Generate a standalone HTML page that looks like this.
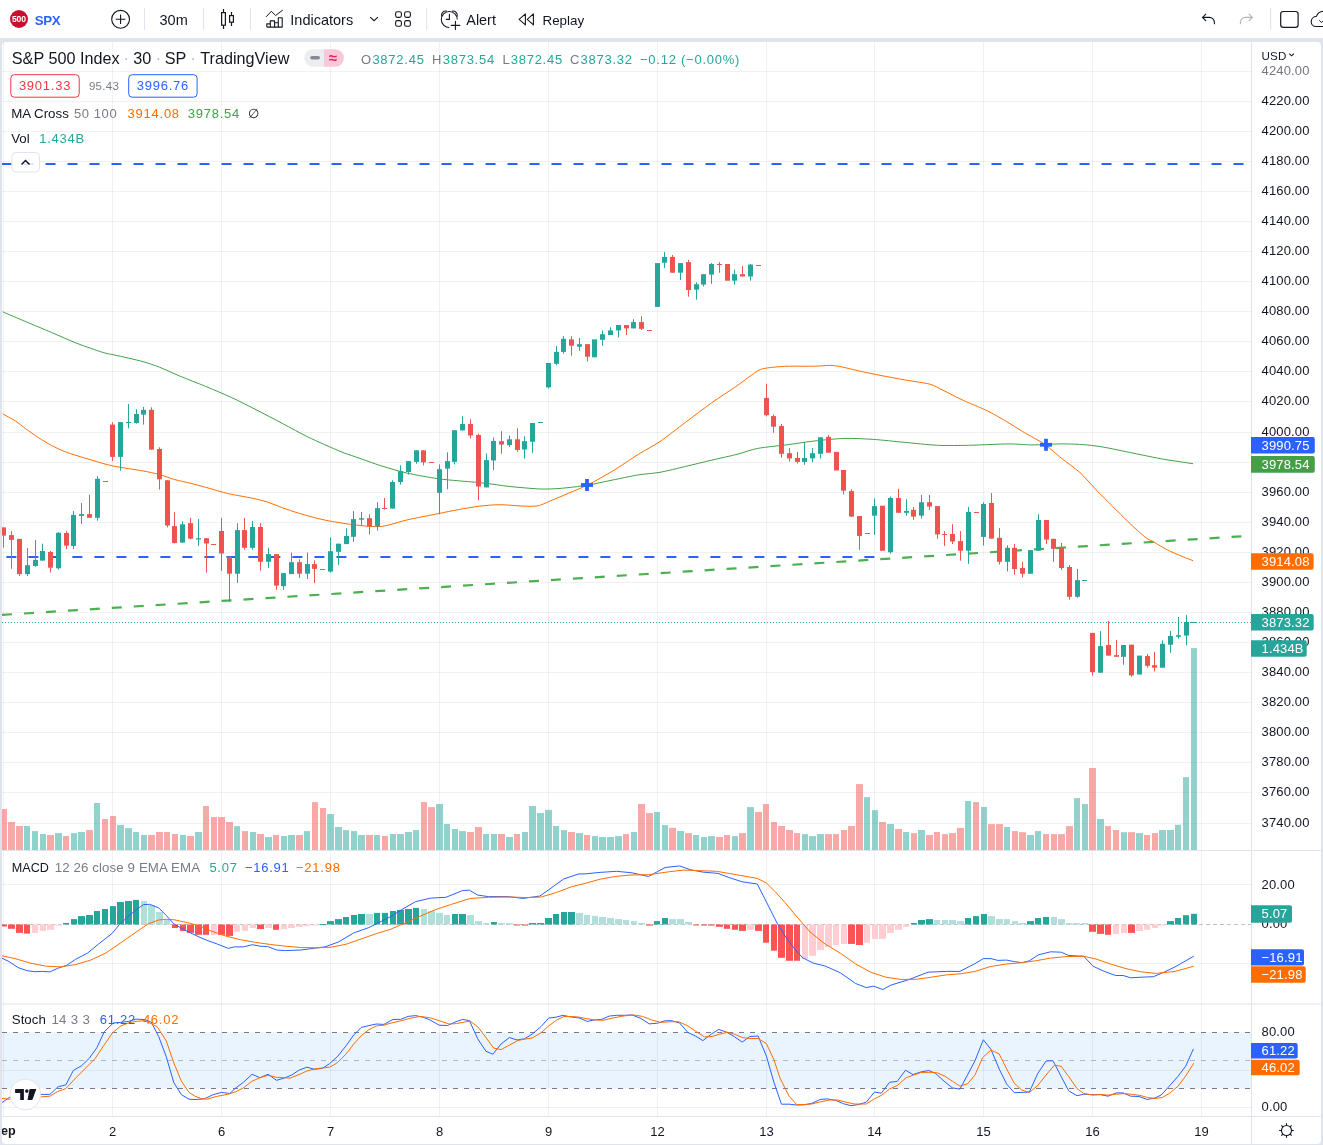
<!DOCTYPE html>
<html><head><meta charset="utf-8"><title>SPX TradingView</title>
<style>
html,body{margin:0;padding:0;background:#e0e3eb;}
body{width:1323px;height:1145px;overflow:hidden;position:relative;font-family:'Liberation Sans', Arial, sans-serif;}
#tb{position:absolute;left:0;top:0;width:1323px;height:38px;background:#fff;}
#panel{position:absolute;left:2px;top:42px;width:1319px;height:1102px;background:#fff;border-radius:4px;}
svg{position:absolute;left:0;top:0;}
svg text{font-family:'Liberation Sans', Arial, sans-serif;}
</style></head>
<body>
<div id="tb"></div>
<div id="panel"></div>
<svg width="1323" height="1145" viewBox="0 0 1323 1145">
<defs><clipPath id="cp"><rect x="2" y="42" width="1249" height="1074"/></clipPath><clipPath id="cpt"><rect x="2" y="1117" width="1249" height="27"/></clipPath></defs>
<g clip-path="url(#cp)">
<rect x="2" y="1032.5" width="1249" height="56" fill="#e9f4fe"/>
<line x1="3.5" y1="42" x2="3.5" y2="1117" stroke="#2a2e39" stroke-opacity="0.066" stroke-width="1"/><line x1="112.5" y1="42" x2="112.5" y2="1117" stroke="#2a2e39" stroke-opacity="0.066" stroke-width="1"/><line x1="221.5" y1="42" x2="221.5" y2="1117" stroke="#2a2e39" stroke-opacity="0.066" stroke-width="1"/><line x1="330.5" y1="42" x2="330.5" y2="1117" stroke="#2a2e39" stroke-opacity="0.066" stroke-width="1"/><line x1="439.5" y1="42" x2="439.5" y2="1117" stroke="#2a2e39" stroke-opacity="0.066" stroke-width="1"/><line x1="548.5" y1="42" x2="548.5" y2="1117" stroke="#2a2e39" stroke-opacity="0.066" stroke-width="1"/><line x1="657.5" y1="42" x2="657.5" y2="1117" stroke="#2a2e39" stroke-opacity="0.066" stroke-width="1"/><line x1="766.5" y1="42" x2="766.5" y2="1117" stroke="#2a2e39" stroke-opacity="0.066" stroke-width="1"/><line x1="874.5" y1="42" x2="874.5" y2="1117" stroke="#2a2e39" stroke-opacity="0.066" stroke-width="1"/><line x1="983.5" y1="42" x2="983.5" y2="1117" stroke="#2a2e39" stroke-opacity="0.066" stroke-width="1"/><line x1="1092.5" y1="42" x2="1092.5" y2="1117" stroke="#2a2e39" stroke-opacity="0.066" stroke-width="1"/><line x1="1201.5" y1="42" x2="1201.5" y2="1117" stroke="#2a2e39" stroke-opacity="0.066" stroke-width="1"/><line x1="2" y1="71.5" x2="1251" y2="71.5" stroke="#2a2e39" stroke-opacity="0.066" stroke-width="1"/><line x1="2" y1="101.5" x2="1251" y2="101.5" stroke="#2a2e39" stroke-opacity="0.066" stroke-width="1"/><line x1="2" y1="131.5" x2="1251" y2="131.5" stroke="#2a2e39" stroke-opacity="0.066" stroke-width="1"/><line x1="2" y1="161.5" x2="1251" y2="161.5" stroke="#2a2e39" stroke-opacity="0.066" stroke-width="1"/><line x1="2" y1="191.5" x2="1251" y2="191.5" stroke="#2a2e39" stroke-opacity="0.066" stroke-width="1"/><line x1="2" y1="221.5" x2="1251" y2="221.5" stroke="#2a2e39" stroke-opacity="0.066" stroke-width="1"/><line x1="2" y1="251.5" x2="1251" y2="251.5" stroke="#2a2e39" stroke-opacity="0.066" stroke-width="1"/><line x1="2" y1="281.5" x2="1251" y2="281.5" stroke="#2a2e39" stroke-opacity="0.066" stroke-width="1"/><line x1="2" y1="311.5" x2="1251" y2="311.5" stroke="#2a2e39" stroke-opacity="0.066" stroke-width="1"/><line x1="2" y1="341.5" x2="1251" y2="341.5" stroke="#2a2e39" stroke-opacity="0.066" stroke-width="1"/><line x1="2" y1="371.5" x2="1251" y2="371.5" stroke="#2a2e39" stroke-opacity="0.066" stroke-width="1"/><line x1="2" y1="401.5" x2="1251" y2="401.5" stroke="#2a2e39" stroke-opacity="0.066" stroke-width="1"/><line x1="2" y1="432.5" x2="1251" y2="432.5" stroke="#2a2e39" stroke-opacity="0.066" stroke-width="1"/><line x1="2" y1="462.5" x2="1251" y2="462.5" stroke="#2a2e39" stroke-opacity="0.066" stroke-width="1"/><line x1="2" y1="492.5" x2="1251" y2="492.5" stroke="#2a2e39" stroke-opacity="0.066" stroke-width="1"/><line x1="2" y1="522.5" x2="1251" y2="522.5" stroke="#2a2e39" stroke-opacity="0.066" stroke-width="1"/><line x1="2" y1="552.5" x2="1251" y2="552.5" stroke="#2a2e39" stroke-opacity="0.066" stroke-width="1"/><line x1="2" y1="582.5" x2="1251" y2="582.5" stroke="#2a2e39" stroke-opacity="0.066" stroke-width="1"/><line x1="2" y1="612.5" x2="1251" y2="612.5" stroke="#2a2e39" stroke-opacity="0.066" stroke-width="1"/><line x1="2" y1="642.5" x2="1251" y2="642.5" stroke="#2a2e39" stroke-opacity="0.066" stroke-width="1"/><line x1="2" y1="672.5" x2="1251" y2="672.5" stroke="#2a2e39" stroke-opacity="0.066" stroke-width="1"/><line x1="2" y1="702.5" x2="1251" y2="702.5" stroke="#2a2e39" stroke-opacity="0.066" stroke-width="1"/><line x1="2" y1="732.5" x2="1251" y2="732.5" stroke="#2a2e39" stroke-opacity="0.066" stroke-width="1"/><line x1="2" y1="762.5" x2="1251" y2="762.5" stroke="#2a2e39" stroke-opacity="0.066" stroke-width="1"/><line x1="2" y1="792.5" x2="1251" y2="792.5" stroke="#2a2e39" stroke-opacity="0.066" stroke-width="1"/><line x1="2" y1="823.5" x2="1251" y2="823.5" stroke="#2a2e39" stroke-opacity="0.066" stroke-width="1"/><line x1="2" y1="884.5" x2="1251" y2="884.5" stroke="#2a2e39" stroke-opacity="0.066" stroke-width="1"/><line x1="2" y1="963.5" x2="1251" y2="963.5" stroke="#2a2e39" stroke-opacity="0.066" stroke-width="1"/><line x1="2" y1="1070.5" x2="1251" y2="1070.5" stroke="#2a2e39" stroke-opacity="0.066" stroke-width="1"/><line x1="2" y1="1107.5" x2="1251" y2="1107.5" stroke="#2a2e39" stroke-opacity="0.066" stroke-width="1"/>
<rect x="1" y="809" width="6" height="41" fill="#ef5350" fill-opacity="0.5"/><rect x="8" y="822" width="7" height="28" fill="#ef5350" fill-opacity="0.5"/><rect x="16" y="826" width="7" height="24" fill="#ef5350" fill-opacity="0.5"/><rect x="24" y="826" width="6" height="24" fill="#26a69a" fill-opacity="0.5"/><rect x="32" y="831.1" width="6" height="18.9" fill="#26a69a" fill-opacity="0.5"/><rect x="40" y="834" width="6" height="16" fill="#26a69a" fill-opacity="0.5"/><rect x="47" y="835" width="7" height="15" fill="#ef5350" fill-opacity="0.5"/><rect x="55" y="833.1" width="7" height="16.9" fill="#26a69a" fill-opacity="0.5"/><rect x="63" y="836" width="6" height="14" fill="#ef5350" fill-opacity="0.5"/><rect x="71" y="833.1" width="6" height="16.9" fill="#26a69a" fill-opacity="0.5"/><rect x="78" y="832" width="7" height="18" fill="#26a69a" fill-opacity="0.5"/><rect x="86" y="830.1" width="7" height="19.9" fill="#ef5350" fill-opacity="0.5"/><rect x="94" y="803" width="6" height="47" fill="#26a69a" fill-opacity="0.5"/><rect x="102" y="819" width="6" height="31" fill="#ef5350" fill-opacity="0.5"/><rect x="110" y="816" width="6" height="34" fill="#ef5350" fill-opacity="0.5"/><rect x="117" y="824.9" width="7" height="25.1" fill="#26a69a" fill-opacity="0.5"/><rect x="125" y="828.1" width="7" height="21.9" fill="#26a69a" fill-opacity="0.5"/><rect x="133" y="832" width="6" height="18" fill="#26a69a" fill-opacity="0.5"/><rect x="141" y="835" width="6" height="15" fill="#26a69a" fill-opacity="0.5"/><rect x="148" y="835" width="7" height="15" fill="#ef5350" fill-opacity="0.5"/><rect x="156" y="832" width="7" height="18" fill="#ef5350" fill-opacity="0.5"/><rect x="164" y="832" width="6" height="18" fill="#ef5350" fill-opacity="0.5"/><rect x="172" y="834" width="6" height="16" fill="#ef5350" fill-opacity="0.5"/><rect x="180" y="835" width="6" height="15" fill="#26a69a" fill-opacity="0.5"/><rect x="187" y="836" width="7" height="14" fill="#ef5350" fill-opacity="0.5"/><rect x="195" y="832" width="7" height="18" fill="#26a69a" fill-opacity="0.5"/><rect x="203" y="806" width="6" height="44" fill="#ef5350" fill-opacity="0.5"/><rect x="211" y="817" width="6" height="33" fill="#ef5350" fill-opacity="0.5"/><rect x="218" y="817" width="7" height="33" fill="#ef5350" fill-opacity="0.5"/><rect x="226" y="822" width="7" height="28" fill="#ef5350" fill-opacity="0.5"/><rect x="234" y="826.1" width="6" height="23.9" fill="#26a69a" fill-opacity="0.5"/><rect x="242" y="831.1" width="6" height="18.9" fill="#ef5350" fill-opacity="0.5"/><rect x="250" y="832" width="6" height="18" fill="#26a69a" fill-opacity="0.5"/><rect x="257" y="834" width="7" height="16" fill="#ef5350" fill-opacity="0.5"/><rect x="265" y="837" width="7" height="13" fill="#26a69a" fill-opacity="0.5"/><rect x="273" y="835" width="6" height="15" fill="#ef5350" fill-opacity="0.5"/><rect x="281" y="836" width="6" height="14" fill="#26a69a" fill-opacity="0.5"/><rect x="288" y="835" width="7" height="15" fill="#26a69a" fill-opacity="0.5"/><rect x="296" y="835" width="7" height="15" fill="#ef5350" fill-opacity="0.5"/><rect x="304" y="831.1" width="6" height="18.9" fill="#26a69a" fill-opacity="0.5"/><rect x="312" y="802.1" width="6" height="47.9" fill="#ef5350" fill-opacity="0.5"/><rect x="320" y="808" width="6" height="42" fill="#ef5350" fill-opacity="0.5"/><rect x="327" y="814" width="7" height="36" fill="#26a69a" fill-opacity="0.5"/><rect x="335" y="827" width="7" height="23" fill="#26a69a" fill-opacity="0.5"/><rect x="343" y="830.1" width="6" height="19.9" fill="#26a69a" fill-opacity="0.5"/><rect x="351" y="831.1" width="6" height="18.9" fill="#26a69a" fill-opacity="0.5"/><rect x="358" y="835" width="7" height="15" fill="#26a69a" fill-opacity="0.5"/><rect x="366" y="835" width="7" height="15" fill="#ef5350" fill-opacity="0.5"/><rect x="374" y="835" width="6" height="15" fill="#26a69a" fill-opacity="0.5"/><rect x="382" y="836" width="6" height="14" fill="#ef5350" fill-opacity="0.5"/><rect x="390" y="834" width="6" height="16" fill="#26a69a" fill-opacity="0.5"/><rect x="397" y="834" width="7" height="16" fill="#26a69a" fill-opacity="0.5"/><rect x="405" y="832" width="7" height="18" fill="#26a69a" fill-opacity="0.5"/><rect x="413" y="830.1" width="6" height="19.9" fill="#26a69a" fill-opacity="0.5"/><rect x="421" y="802.1" width="6" height="47.9" fill="#ef5350" fill-opacity="0.5"/><rect x="428" y="807.1" width="7" height="42.9" fill="#ef5350" fill-opacity="0.5"/><rect x="436" y="804" width="7" height="46" fill="#26a69a" fill-opacity="0.5"/><rect x="444" y="824" width="6" height="26" fill="#26a69a" fill-opacity="0.5"/><rect x="452" y="829" width="6" height="21" fill="#26a69a" fill-opacity="0.5"/><rect x="459" y="831.1" width="7" height="18.9" fill="#26a69a" fill-opacity="0.5"/><rect x="467" y="832" width="7" height="18" fill="#ef5350" fill-opacity="0.5"/><rect x="475" y="827" width="7" height="23" fill="#ef5350" fill-opacity="0.5"/><rect x="483" y="834" width="6" height="16" fill="#26a69a" fill-opacity="0.5"/><rect x="491" y="834" width="6" height="16" fill="#26a69a" fill-opacity="0.5"/><rect x="498" y="834" width="7" height="16" fill="#ef5350" fill-opacity="0.5"/><rect x="506" y="837" width="7" height="13" fill="#26a69a" fill-opacity="0.5"/><rect x="514" y="834" width="6" height="16" fill="#ef5350" fill-opacity="0.5"/><rect x="522" y="832" width="6" height="18" fill="#26a69a" fill-opacity="0.5"/><rect x="529" y="806" width="7" height="44" fill="#26a69a" fill-opacity="0.5"/><rect x="537" y="813" width="7" height="37" fill="#26a69a" fill-opacity="0.5"/><rect x="545" y="809.9" width="7" height="40.1" fill="#26a69a" fill-opacity="0.5"/><rect x="553" y="826" width="6" height="24" fill="#26a69a" fill-opacity="0.5"/><rect x="561" y="830.1" width="6" height="19.9" fill="#26a69a" fill-opacity="0.5"/><rect x="568" y="832" width="7" height="18" fill="#ef5350" fill-opacity="0.5"/><rect x="576" y="833.1" width="7" height="16.9" fill="#26a69a" fill-opacity="0.5"/><rect x="584" y="835" width="6" height="15" fill="#ef5350" fill-opacity="0.5"/><rect x="592" y="836.1" width="6" height="13.9" fill="#26a69a" fill-opacity="0.5"/><rect x="599" y="837" width="7" height="13" fill="#26a69a" fill-opacity="0.5"/><rect x="607" y="837" width="7" height="13" fill="#26a69a" fill-opacity="0.5"/><rect x="615" y="836.1" width="7" height="13.9" fill="#26a69a" fill-opacity="0.5"/><rect x="623" y="834.1" width="6" height="15.9" fill="#ef5350" fill-opacity="0.5"/><rect x="631" y="832" width="6" height="18" fill="#26a69a" fill-opacity="0.5"/><rect x="638" y="804" width="7" height="46" fill="#ef5350" fill-opacity="0.5"/><rect x="646" y="813.1" width="7" height="36.9" fill="#ef5350" fill-opacity="0.5"/><rect x="654" y="812" width="6" height="38" fill="#26a69a" fill-opacity="0.5"/><rect x="662" y="825.1" width="6" height="24.9" fill="#26a69a" fill-opacity="0.5"/><rect x="669" y="827.9" width="7" height="22.1" fill="#ef5350" fill-opacity="0.5"/><rect x="677" y="831" width="7" height="19" fill="#26a69a" fill-opacity="0.5"/><rect x="685" y="833.1" width="7" height="16.9" fill="#ef5350" fill-opacity="0.5"/><rect x="693" y="835" width="6" height="15" fill="#26a69a" fill-opacity="0.5"/><rect x="701" y="837" width="6" height="13" fill="#26a69a" fill-opacity="0.5"/><rect x="708" y="836.1" width="7" height="13.9" fill="#26a69a" fill-opacity="0.5"/><rect x="716" y="837" width="7" height="13" fill="#ef5350" fill-opacity="0.5"/><rect x="724" y="835" width="6" height="15" fill="#ef5350" fill-opacity="0.5"/><rect x="732" y="836.1" width="6" height="13.9" fill="#26a69a" fill-opacity="0.5"/><rect x="739" y="833.1" width="7" height="16.9" fill="#ef5350" fill-opacity="0.5"/><rect x="747" y="807.1" width="7" height="42.9" fill="#26a69a" fill-opacity="0.5"/><rect x="755" y="812" width="7" height="38" fill="#ef5350" fill-opacity="0.5"/><rect x="763" y="804" width="6" height="46" fill="#ef5350" fill-opacity="0.5"/><rect x="771" y="822" width="6" height="28" fill="#ef5350" fill-opacity="0.5"/><rect x="778" y="826" width="7" height="24" fill="#ef5350" fill-opacity="0.5"/><rect x="786" y="830" width="7" height="20" fill="#ef5350" fill-opacity="0.5"/><rect x="794" y="833.1" width="6" height="16.9" fill="#ef5350" fill-opacity="0.5"/><rect x="802" y="834.1" width="6" height="15.9" fill="#26a69a" fill-opacity="0.5"/><rect x="809" y="836.1" width="7" height="13.9" fill="#26a69a" fill-opacity="0.5"/><rect x="817" y="834.1" width="7" height="15.9" fill="#26a69a" fill-opacity="0.5"/><rect x="825" y="834.1" width="7" height="15.9" fill="#ef5350" fill-opacity="0.5"/><rect x="833" y="834.1" width="6" height="15.9" fill="#ef5350" fill-opacity="0.5"/><rect x="841" y="830" width="6" height="20" fill="#ef5350" fill-opacity="0.5"/><rect x="848" y="826" width="7" height="24" fill="#ef5350" fill-opacity="0.5"/><rect x="856" y="784.1" width="7" height="65.9" fill="#ef5350" fill-opacity="0.5"/><rect x="864" y="797.1" width="6" height="52.9" fill="#26a69a" fill-opacity="0.5"/><rect x="872" y="810.1" width="6" height="39.9" fill="#26a69a" fill-opacity="0.5"/><rect x="879" y="822" width="7" height="28" fill="#ef5350" fill-opacity="0.5"/><rect x="887" y="824" width="7" height="26" fill="#26a69a" fill-opacity="0.5"/><rect x="895" y="829" width="7" height="21" fill="#ef5350" fill-opacity="0.5"/><rect x="903" y="832" width="6" height="18" fill="#26a69a" fill-opacity="0.5"/><rect x="911" y="833.1" width="6" height="16.9" fill="#ef5350" fill-opacity="0.5"/><rect x="918" y="830" width="7" height="20" fill="#26a69a" fill-opacity="0.5"/><rect x="926" y="835" width="7" height="15" fill="#ef5350" fill-opacity="0.5"/><rect x="934" y="832" width="6" height="18" fill="#ef5350" fill-opacity="0.5"/><rect x="942" y="834.1" width="6" height="15.9" fill="#ef5350" fill-opacity="0.5"/><rect x="949" y="833.1" width="7" height="16.9" fill="#ef5350" fill-opacity="0.5"/><rect x="957" y="827.9" width="7" height="22.1" fill="#ef5350" fill-opacity="0.5"/><rect x="965" y="801" width="6" height="49" fill="#26a69a" fill-opacity="0.5"/><rect x="973" y="802.1" width="6" height="47.9" fill="#ef5350" fill-opacity="0.5"/><rect x="981" y="807" width="6" height="43" fill="#26a69a" fill-opacity="0.5"/><rect x="988" y="824.1" width="7" height="25.9" fill="#ef5350" fill-opacity="0.5"/><rect x="996" y="824.1" width="7" height="25.9" fill="#ef5350" fill-opacity="0.5"/><rect x="1004" y="827" width="6" height="23" fill="#26a69a" fill-opacity="0.5"/><rect x="1012" y="831.1" width="6" height="18.9" fill="#ef5350" fill-opacity="0.5"/><rect x="1019" y="832.2" width="7" height="17.8" fill="#ef5350" fill-opacity="0.5"/><rect x="1027" y="835" width="7" height="15" fill="#26a69a" fill-opacity="0.5"/><rect x="1035" y="831.1" width="6" height="18.9" fill="#26a69a" fill-opacity="0.5"/><rect x="1043" y="834.1" width="6" height="15.9" fill="#ef5350" fill-opacity="0.5"/><rect x="1051" y="834.1" width="6" height="15.9" fill="#ef5350" fill-opacity="0.5"/><rect x="1058" y="834.1" width="7" height="15.9" fill="#ef5350" fill-opacity="0.5"/><rect x="1066" y="826.1" width="7" height="23.9" fill="#ef5350" fill-opacity="0.5"/><rect x="1074" y="798.1" width="6" height="51.9" fill="#26a69a" fill-opacity="0.5"/><rect x="1082" y="804" width="6" height="46" fill="#26a69a" fill-opacity="0.5"/><rect x="1089" y="768" width="7" height="82" fill="#ef5350" fill-opacity="0.5"/><rect x="1097" y="819" width="7" height="31" fill="#26a69a" fill-opacity="0.5"/><rect x="1105" y="826.1" width="6" height="23.9" fill="#ef5350" fill-opacity="0.5"/><rect x="1113" y="830" width="6" height="20" fill="#ef5350" fill-opacity="0.5"/><rect x="1121" y="832.2" width="6" height="17.8" fill="#26a69a" fill-opacity="0.5"/><rect x="1128" y="832.2" width="7" height="17.8" fill="#ef5350" fill-opacity="0.5"/><rect x="1136" y="833.1" width="7" height="16.9" fill="#26a69a" fill-opacity="0.5"/><rect x="1144" y="835" width="6" height="15" fill="#ef5350" fill-opacity="0.5"/><rect x="1152" y="833.1" width="6" height="16.9" fill="#ef5350" fill-opacity="0.5"/><rect x="1159" y="830" width="7" height="20" fill="#26a69a" fill-opacity="0.5"/><rect x="1167" y="830" width="7" height="20" fill="#26a69a" fill-opacity="0.5"/><rect x="1175" y="824.8" width="6" height="25.2" fill="#26a69a" fill-opacity="0.5"/><rect x="1183" y="777.1" width="6" height="72.9" fill="#26a69a" fill-opacity="0.5"/><rect x="1191" y="648.1" width="6" height="201.9" fill="#26a69a" fill-opacity="0.5"/>
<line x1="2" y1="614.87" x2="1241.4" y2="536.3" stroke="#4caf50" stroke-width="2.2" stroke-dasharray="10 12"/>
<line x1="1.5" y1="164" x2="1251" y2="164" stroke="#2962ff" stroke-width="2" stroke-dasharray="10 12"/>
<line x1="6.4" y1="557" x2="874.6" y2="557" stroke="#2962ff" stroke-width="2" stroke-dasharray="10 12"/>
<path d="M2.6 311.8 C5.68 313.11 19.19 318.85 25.7 321.6 C32.21 324.35 44.55 329.49 51.4 332.4 C58.25 335.31 70.25 340.73 77.1 343.4 C83.95 346.07 98 350.89 102.8 352.4 C107.6 353.91 109.67 353.94 113.1 354.7 C116.53 355.46 124.39 357.14 128.5 358.1 C132.61 359.06 139.79 360.7 143.9 361.9 C148.01 363.1 154.5 365.21 159.3 367.1 C164.1 368.99 173.73 373.53 179.9 376.1 C186.07 378.67 198.75 383.56 205.6 386.4 C212.45 389.24 224.45 394.23 231.3 397.4 C238.15 400.57 250.15 406.71 257 410.2 C263.85 413.69 275.85 420 282.7 423.6 C289.55 427.2 300.76 433.51 308.4 437.2 C316.04 440.89 333.69 448.67 340 451.3 C346.31 453.93 350.18 454.95 355.7 456.9 C361.22 458.85 374.55 463.74 381.4 465.9 C388.25 468.06 399.57 471.39 407.1 473.1 C414.63 474.81 431.05 477.67 437.9 478.7 C444.75 479.73 452.33 480.21 458.5 480.8 C464.67 481.39 477.35 482.34 484.2 483.1 C491.05 483.86 502.37 485.71 509.9 486.5 C517.43 487.29 533.85 488.76 540.7 489 C547.55 489.24 555.13 488.81 561.3 488.3 C567.47 487.79 580.15 486.31 587 485.2 C593.85 484.09 605.85 481.37 612.7 480 C619.55 478.63 632.09 475.93 638.4 474.9 C644.71 473.87 653.69 473.43 660 472.3 C666.31 471.17 678.85 468.01 685.7 466.4 C692.55 464.79 704.55 461.81 711.4 460.2 C718.25 458.59 730.93 455.87 737.1 454.3 C743.27 452.73 750.85 449.69 757.7 448.4 C764.55 447.11 780.97 445.59 788.5 444.6 C796.03 443.61 806.67 441.83 814.2 441 C821.73 440.17 837.12 438.61 845 438.4 C852.88 438.19 865.41 438.88 873.3 439.4 C881.19 439.92 895.63 441.51 904.2 442.3 C912.77 443.09 929.04 444.9 937.6 445.3 C946.16 445.7 961.41 445.41 968.4 445.3 C975.39 445.19 984.4 444.69 990 444.5 C995.6 444.31 1004.96 443.85 1010.4 443.9 C1015.84 443.95 1026.04 444.82 1030.8 444.9 C1035.56 444.98 1042.02 444.63 1046.1 444.5 C1050.18 444.37 1056.64 443.9 1061.4 443.9 C1066.16 443.9 1076.36 444.1 1081.8 444.5 C1087.24 444.9 1095.39 445.75 1102.2 446.9 C1109.01 448.05 1124.73 451.46 1132.9 453.1 C1141.07 454.74 1155.47 457.79 1163.5 459.2 C1171.53 460.61 1189.15 463.1 1193.1 463.7" fill="none" stroke="#43a047" stroke-width="1" />
<path d="M2.6 413.8 C4.31 414.76 12.32 419.01 15.4 421 C18.48 422.99 22.61 426.47 25.7 428.7 C28.79 430.93 35.17 435.47 38.6 437.7 C42.03 439.93 47.97 443.57 51.4 445.4 C54.83 447.23 60.87 450.03 64.3 451.4 C67.73 452.77 73.67 454.61 77.1 455.7 C80.53 456.79 86.57 458.57 90 459.6 C93.43 460.63 99.72 462.55 102.8 463.4 C105.88 464.25 109.67 465.31 113.1 466 C116.53 466.69 124.39 467.92 128.5 468.6 C132.61 469.28 139.79 470.31 143.9 471.1 C148.01 471.89 155.18 473.37 159.3 474.5 C163.42 475.63 170.68 478.44 174.8 479.6 C178.92 480.76 186.09 482.17 190.2 483.2 C194.31 484.23 201.49 486.17 205.6 487.3 C209.71 488.43 217.57 490.77 221 491.7 C224.43 492.63 227.18 493.45 231.3 494.3 C235.42 495.15 247.1 497.07 251.9 498.1 C256.7 499.13 263.19 500.69 267.3 502 C271.41 503.31 278.59 506.43 282.7 507.9 C286.81 509.37 293.98 511.73 298.1 513 C302.22 514.27 309.35 516.32 313.6 517.4 C317.85 518.48 324.39 520.09 330 521.1 C335.61 522.11 348.85 524.28 355.7 525 C362.55 525.72 374.55 527.18 381.4 526.5 C388.25 525.82 399.57 521.61 407.1 519.9 C414.63 518.19 431.05 515.07 437.9 513.7 C444.75 512.33 453.01 510.6 458.5 509.6 C463.99 508.6 473.62 506.85 479.1 506.2 C484.58 505.55 493.44 504.7 499.6 504.7 C505.76 504.7 520.15 506.07 525.3 506.2 C530.45 506.33 534.77 506.45 538.2 505.7 C541.63 504.95 544.49 503.33 551 500.6 C557.51 497.87 578.77 489.15 587 485.2 C595.23 481.25 605.85 475.12 612.7 471 C619.55 466.88 632.09 458.23 638.4 454.3 C644.71 450.37 653.69 445.78 660 441.5 C666.31 437.22 678.85 427.33 685.7 422.2 C692.55 417.07 704.55 407.87 711.4 403 C718.25 398.13 730.93 389.99 737.1 385.7 C743.27 381.41 753.85 373.13 757.7 370.8 C761.55 368.47 763.61 368.71 766 368.2 C768.39 367.69 772.6 367.27 775.6 367 C778.6 366.73 783.35 366.31 788.5 366.2 C793.65 366.09 808.72 366.31 814.2 366.2 C819.68 366.09 826.17 365.36 829.6 365.4 C833.03 365.44 835.78 365.71 839.9 366.5 C844.02 367.29 855.02 370.1 860.5 371.3 C865.98 372.5 875.17 374.37 881 375.5 C886.83 376.63 897.68 378.64 904.2 379.8 C910.72 380.96 924.77 382.83 929.9 384.2 C935.03 385.57 938.25 387.94 942.7 390.1 C947.15 392.26 958.15 398 963.3 400.4 C968.45 402.8 977.74 406.53 981.3 408.1 C984.86 409.67 986.67 410.43 990 412.2 C993.33 413.97 1001.94 418.81 1006.3 421.4 C1010.66 423.99 1018.34 429.01 1022.7 431.6 C1027.06 434.19 1035.88 438.97 1039 440.8 C1042.12 442.63 1043.11 442.98 1046.1 445.3 C1049.09 447.62 1056.91 454.59 1061.4 458.2 C1065.89 461.81 1075.17 468.19 1079.8 472.4 C1084.43 476.61 1091.75 485.31 1096.1 489.8 C1100.45 494.29 1108.04 501.75 1112.4 506.1 C1116.76 510.45 1124.44 518.27 1128.8 522.4 C1133.16 526.53 1141.83 534.51 1145.1 537.1 C1148.37 539.69 1150.03 539.95 1153.3 541.8 C1156.57 543.65 1164.29 548.47 1169.6 551 C1174.91 553.53 1189.97 559.49 1193.1 560.8" fill="none" stroke="#ff6d00" stroke-width="1" />
<rect x="3" y="527.4" width="1" height="20.2" fill="#ef5350"/><rect x="1" y="527.4" width="5" height="8.2" fill="#ef5350"/><rect x="11" y="531.2" width="1" height="37.5" fill="#ef5350"/><rect x="9" y="535.1" width="5" height="4.8" fill="#ef5350"/><rect x="19" y="538.9" width="1" height="37.1" fill="#ef5350"/><rect x="17" y="538.9" width="5" height="35.2" fill="#ef5350"/><rect x="27" y="548" width="1" height="28" fill="#26a69a"/><rect x="25" y="565.2" width="5" height="8.9" fill="#26a69a"/><rect x="35" y="539.9" width="1" height="26.9" fill="#26a69a"/><rect x="33" y="559.9" width="5" height="6.1" fill="#26a69a"/><rect x="42" y="543.7" width="1" height="16.9" fill="#26a69a"/><rect x="40" y="551" width="5" height="9.6" fill="#26a69a"/><rect x="50" y="551" width="1" height="21.5" fill="#ef5350"/><rect x="48" y="552" width="5" height="15.7" fill="#ef5350"/><rect x="58" y="532.2" width="1" height="37.5" fill="#26a69a"/><rect x="56" y="532.8" width="5" height="35.5" fill="#26a69a"/><rect x="66" y="530.8" width="1" height="18.3" fill="#ef5350"/><rect x="64" y="533" width="5" height="12.6" fill="#ef5350"/><rect x="73" y="511" width="1" height="38.1" fill="#26a69a"/><rect x="71" y="514.9" width="5" height="31.1" fill="#26a69a"/><rect x="81" y="503" width="1" height="20.9" fill="#26a69a"/><rect x="79" y="514.1" width="5" height="1.8" fill="#26a69a"/><rect x="89" y="494.7" width="1" height="23.1" fill="#ef5350"/><rect x="87" y="514.1" width="5" height="3.7" fill="#ef5350"/><rect x="97" y="476.1" width="1" height="44.6" fill="#26a69a"/><rect x="95" y="478.8" width="5" height="39" fill="#26a69a"/><rect x="103" y="481" width="5" height="1" fill="#ef5350"/><rect x="112" y="422.3" width="1" height="38.8" fill="#ef5350"/><rect x="110" y="424.6" width="5" height="32.3" fill="#ef5350"/><rect x="120" y="422.1" width="1" height="48.6" fill="#26a69a"/><rect x="118" y="422.1" width="5" height="34.8" fill="#26a69a"/><rect x="128" y="404" width="1" height="24.4" fill="#26a69a"/><rect x="126" y="422" width="5" height="1" fill="#26a69a"/><rect x="136" y="409.2" width="1" height="14.4" fill="#26a69a"/><rect x="134" y="414" width="5" height="9" fill="#26a69a"/><rect x="143" y="406.9" width="1" height="17.7" fill="#26a69a"/><rect x="141" y="409.8" width="5" height="4.8" fill="#26a69a"/><rect x="151" y="407.3" width="1" height="42.3" fill="#ef5350"/><rect x="149" y="409.8" width="5" height="39.8" fill="#ef5350"/><rect x="159" y="447.3" width="1" height="42.2" fill="#ef5350"/><rect x="157" y="449" width="5" height="30.3" fill="#ef5350"/><rect x="167" y="480.1" width="1" height="47.3" fill="#ef5350"/><rect x="165" y="480.3" width="5" height="45.2" fill="#ef5350"/><rect x="174" y="512.2" width="1" height="31.3" fill="#ef5350"/><rect x="172" y="526.1" width="5" height="16.9" fill="#ef5350"/><rect x="182" y="521.3" width="1" height="21.3" fill="#26a69a"/><rect x="180" y="524.3" width="5" height="18.3" fill="#26a69a"/><rect x="190" y="518" width="1" height="21.5" fill="#ef5350"/><rect x="188" y="523.2" width="5" height="15.5" fill="#ef5350"/><rect x="198" y="519" width="1" height="26.9" fill="#26a69a"/><rect x="196" y="538.2" width="5" height="1.3" fill="#26a69a"/><rect x="206" y="538.2" width="1" height="34.5" fill="#ef5350"/><rect x="204" y="538.2" width="5" height="5.3" fill="#ef5350"/><rect x="211" y="544" width="5" height="1" fill="#ef5350"/><rect x="221" y="518" width="1" height="52.8" fill="#ef5350"/><rect x="219" y="531" width="5" height="22.5" fill="#ef5350"/><rect x="229" y="556.8" width="1" height="44.8" fill="#ef5350"/><rect x="227" y="556.8" width="5" height="16.9" fill="#ef5350"/><rect x="237" y="523.2" width="1" height="59.7" fill="#26a69a"/><rect x="235" y="530.1" width="5" height="43.6" fill="#26a69a"/><rect x="244" y="518" width="1" height="31.7" fill="#ef5350"/><rect x="242" y="530.1" width="5" height="17.7" fill="#ef5350"/><rect x="252" y="520.9" width="1" height="28.8" fill="#26a69a"/><rect x="250" y="527" width="5" height="20.8" fill="#26a69a"/><rect x="260" y="523.2" width="1" height="47.6" fill="#ef5350"/><rect x="258" y="527" width="5" height="34.8" fill="#ef5350"/><rect x="268" y="547.8" width="1" height="20.2" fill="#26a69a"/><rect x="266" y="554.1" width="5" height="7.7" fill="#26a69a"/><rect x="276" y="554.1" width="1" height="35.9" fill="#ef5350"/><rect x="274" y="554.1" width="5" height="31.5" fill="#ef5350"/><rect x="283" y="573.1" width="1" height="16.9" fill="#26a69a"/><rect x="281" y="573.1" width="5" height="13.1" fill="#26a69a"/><rect x="291" y="552.6" width="1" height="21.5" fill="#26a69a"/><rect x="289" y="562.2" width="5" height="11.9" fill="#26a69a"/><rect x="299" y="559.3" width="1" height="18.6" fill="#ef5350"/><rect x="297" y="562.2" width="5" height="11.5" fill="#ef5350"/><rect x="307" y="552.6" width="1" height="26.5" fill="#26a69a"/><rect x="305" y="564.1" width="5" height="9.6" fill="#26a69a"/><rect x="314" y="560.3" width="1" height="22.6" fill="#ef5350"/><rect x="312" y="564.1" width="5" height="4.8" fill="#ef5350"/><rect x="320" y="569" width="5" height="1" fill="#ef5350"/><rect x="330" y="537.4" width="1" height="35.1" fill="#26a69a"/><rect x="328" y="551.2" width="5" height="20.4" fill="#26a69a"/><rect x="338" y="543.7" width="1" height="21.2" fill="#26a69a"/><rect x="336" y="543.7" width="5" height="8.1" fill="#26a69a"/><rect x="346" y="528.4" width="1" height="15.7" fill="#26a69a"/><rect x="344" y="536" width="5" height="8.1" fill="#26a69a"/><rect x="353" y="511.1" width="1" height="30.7" fill="#26a69a"/><rect x="351" y="519.1" width="5" height="17.7" fill="#26a69a"/><rect x="361" y="512" width="1" height="13.9" fill="#26a69a"/><rect x="359" y="518.2" width="5" height="1.5" fill="#26a69a"/><rect x="369" y="514.3" width="1" height="20.2" fill="#ef5350"/><rect x="367" y="518.2" width="5" height="8.2" fill="#ef5350"/><rect x="377" y="502.2" width="1" height="28.5" fill="#26a69a"/><rect x="375" y="508.2" width="5" height="18.2" fill="#26a69a"/><rect x="384" y="498" width="1" height="11.6" fill="#ef5350"/><rect x="382" y="508" width="5" height="1" fill="#ef5350"/><rect x="392" y="480.3" width="1" height="28.3" fill="#26a69a"/><rect x="390" y="482" width="5" height="26.6" fill="#26a69a"/><rect x="400" y="465.3" width="1" height="19.2" fill="#26a69a"/><rect x="398" y="471.1" width="5" height="10.9" fill="#26a69a"/><rect x="408" y="461.1" width="1" height="13.4" fill="#26a69a"/><rect x="406" y="461.1" width="5" height="10.9" fill="#26a69a"/><rect x="416" y="450.3" width="1" height="13.5" fill="#26a69a"/><rect x="414" y="450.3" width="5" height="11.6" fill="#26a69a"/><rect x="423" y="450.3" width="1" height="15" fill="#ef5350"/><rect x="421" y="450.3" width="5" height="12.1" fill="#ef5350"/><rect x="429" y="462" width="5" height="1" fill="#ef5350"/><rect x="439" y="464.4" width="1" height="49.9" fill="#26a69a"/><rect x="437" y="469.2" width="5" height="23.6" fill="#26a69a"/><rect x="447" y="452.3" width="1" height="37" fill="#26a69a"/><rect x="445" y="461.1" width="5" height="7.5" fill="#26a69a"/><rect x="454" y="430.2" width="1" height="34.2" fill="#26a69a"/><rect x="452" y="430.2" width="5" height="31.7" fill="#26a69a"/><rect x="462" y="416.3" width="1" height="14.1" fill="#26a69a"/><rect x="460" y="424" width="5" height="6.4" fill="#26a69a"/><rect x="470" y="419.2" width="1" height="19.2" fill="#ef5350"/><rect x="468" y="424" width="5" height="11.5" fill="#ef5350"/><rect x="478" y="433.6" width="1" height="66.7" fill="#ef5350"/><rect x="476" y="435" width="5" height="51.5" fill="#ef5350"/><rect x="486" y="453.4" width="1" height="34" fill="#26a69a"/><rect x="484" y="460.1" width="5" height="27.3" fill="#26a69a"/><rect x="493" y="437.5" width="1" height="32.6" fill="#26a69a"/><rect x="491" y="441" width="5" height="19.5" fill="#26a69a"/><rect x="501" y="431.2" width="1" height="22.5" fill="#ef5350"/><rect x="499" y="441.2" width="5" height="3.3" fill="#ef5350"/><rect x="509" y="435.5" width="1" height="11.5" fill="#26a69a"/><rect x="507" y="439.3" width="5" height="5.8" fill="#26a69a"/><rect x="517" y="428.4" width="1" height="23.4" fill="#ef5350"/><rect x="515" y="439.3" width="5" height="10.6" fill="#ef5350"/><rect x="524" y="436.4" width="1" height="22.1" fill="#26a69a"/><rect x="522" y="441.2" width="5" height="8.3" fill="#26a69a"/><rect x="532" y="423" width="1" height="29.8" fill="#26a69a"/><rect x="530" y="423" width="5" height="18.8" fill="#26a69a"/><rect x="538" y="422" width="5" height="1" fill="#26a69a"/><rect x="548" y="363" width="1" height="25.4" fill="#26a69a"/><rect x="546" y="363" width="5" height="24.4" fill="#26a69a"/><rect x="556" y="346.1" width="1" height="19.2" fill="#26a69a"/><rect x="554" y="351.9" width="5" height="11.9" fill="#26a69a"/><rect x="563" y="336.1" width="1" height="17.7" fill="#26a69a"/><rect x="561" y="338.8" width="5" height="13.1" fill="#26a69a"/><rect x="571" y="336.1" width="1" height="19.6" fill="#ef5350"/><rect x="569" y="339.4" width="5" height="6.3" fill="#ef5350"/><rect x="579" y="338" width="1" height="12.9" fill="#26a69a"/><rect x="577" y="344.2" width="5" height="2.5" fill="#26a69a"/><rect x="587" y="344.2" width="1" height="17.3" fill="#ef5350"/><rect x="585" y="344.2" width="5" height="12.5" fill="#ef5350"/><rect x="592" y="339.4" width="5" height="17.9" fill="#26a69a"/><rect x="602" y="330.4" width="1" height="15.3" fill="#26a69a"/><rect x="600" y="334.2" width="5" height="5.6" fill="#26a69a"/><rect x="610" y="327.3" width="1" height="7.7" fill="#26a69a"/><rect x="608" y="330.4" width="5" height="4.6" fill="#26a69a"/><rect x="618" y="325" width="1" height="12.5" fill="#26a69a"/><rect x="616" y="325" width="5" height="5.4" fill="#26a69a"/><rect x="626" y="325" width="1" height="10" fill="#ef5350"/><rect x="624" y="325" width="5" height="3.4" fill="#ef5350"/><rect x="633" y="319.2" width="1" height="9.2" fill="#26a69a"/><rect x="631" y="322.1" width="5" height="6.3" fill="#26a69a"/><rect x="641" y="316.3" width="1" height="13.5" fill="#ef5350"/><rect x="639" y="322.1" width="5" height="6.7" fill="#ef5350"/><rect x="647" y="330" width="5" height="1" fill="#ef5350"/><rect x="655" y="263.1" width="5" height="43.8" fill="#26a69a"/><rect x="664" y="251.9" width="1" height="16" fill="#26a69a"/><rect x="662" y="256.9" width="5" height="5.8" fill="#26a69a"/><rect x="672" y="255" width="1" height="17.7" fill="#ef5350"/><rect x="670" y="256.9" width="5" height="15.8" fill="#ef5350"/><rect x="680" y="263.1" width="1" height="16.9" fill="#26a69a"/><rect x="678" y="263.1" width="5" height="9.6" fill="#26a69a"/><rect x="688" y="259.8" width="1" height="36.9" fill="#ef5350"/><rect x="686" y="262.1" width="5" height="27.9" fill="#ef5350"/><rect x="696" y="282.3" width="1" height="17.3" fill="#26a69a"/><rect x="694" y="284.2" width="5" height="5.4" fill="#26a69a"/><rect x="703" y="274.2" width="1" height="12.3" fill="#26a69a"/><rect x="701" y="274.2" width="5" height="10.4" fill="#26a69a"/><rect x="711" y="263.1" width="1" height="20.7" fill="#26a69a"/><rect x="709" y="264" width="5" height="10.6" fill="#26a69a"/><rect x="719" y="262.1" width="1" height="10.6" fill="#ef5350"/><rect x="717" y="264" width="5" height="1" fill="#ef5350"/><rect x="725" y="264" width="5" height="16.7" fill="#ef5350"/><rect x="734" y="269.8" width="1" height="14.8" fill="#26a69a"/><rect x="732" y="274.2" width="5" height="6.5" fill="#26a69a"/><rect x="742" y="265.9" width="1" height="10.6" fill="#ef5350"/><rect x="740" y="274.2" width="5" height="2.3" fill="#ef5350"/><rect x="750" y="264" width="1" height="16.7" fill="#26a69a"/><rect x="748" y="264.6" width="5" height="11.9" fill="#26a69a"/><rect x="756" y="265" width="5" height="1" fill="#ef5350"/><rect x="766" y="383.7" width="1" height="32.7" fill="#ef5350"/><rect x="764" y="397.9" width="5" height="17.3" fill="#ef5350"/><rect x="773" y="414.5" width="1" height="18.2" fill="#ef5350"/><rect x="771" y="416.1" width="5" height="10.6" fill="#ef5350"/><rect x="781" y="424" width="1" height="33.7" fill="#ef5350"/><rect x="779" y="426" width="5" height="27.8" fill="#ef5350"/><rect x="789" y="448" width="1" height="13.5" fill="#ef5350"/><rect x="787" y="453.2" width="5" height="5.2" fill="#ef5350"/><rect x="797" y="451.9" width="1" height="11.5" fill="#ef5350"/><rect x="795" y="458" width="5" height="3.9" fill="#ef5350"/><rect x="804" y="442.3" width="1" height="22.5" fill="#26a69a"/><rect x="802" y="458" width="5" height="3.9" fill="#26a69a"/><rect x="812" y="448" width="1" height="14.3" fill="#26a69a"/><rect x="810" y="453.2" width="5" height="5.2" fill="#26a69a"/><rect x="820" y="437.3" width="1" height="21.1" fill="#26a69a"/><rect x="818" y="437.3" width="5" height="16.5" fill="#26a69a"/><rect x="828" y="435" width="1" height="17.7" fill="#ef5350"/><rect x="826" y="436.9" width="5" height="15.8" fill="#ef5350"/><rect x="834" y="451.9" width="5" height="18.6" fill="#ef5350"/><rect x="843" y="470" width="1" height="24.5" fill="#ef5350"/><rect x="841" y="470" width="5" height="20.7" fill="#ef5350"/><rect x="851" y="489.2" width="1" height="27.4" fill="#ef5350"/><rect x="849" y="491.1" width="5" height="25.5" fill="#ef5350"/><rect x="859" y="516.1" width="1" height="33.8" fill="#ef5350"/><rect x="857" y="516.1" width="5" height="19.8" fill="#ef5350"/><rect x="865" y="533" width="5" height="1" fill="#26a69a"/><rect x="874" y="498.4" width="1" height="36.5" fill="#26a69a"/><rect x="872" y="506.1" width="5" height="9.6" fill="#26a69a"/><rect x="880" y="505.7" width="5" height="45.1" fill="#ef5350"/><rect x="890" y="496.5" width="1" height="57.2" fill="#26a69a"/><rect x="888" y="498" width="5" height="54.2" fill="#26a69a"/><rect x="898" y="488.8" width="1" height="24" fill="#ef5350"/><rect x="896" y="498" width="5" height="14.8" fill="#ef5350"/><rect x="906" y="499.3" width="1" height="16.4" fill="#26a69a"/><rect x="904" y="510.9" width="5" height="1.9" fill="#26a69a"/><rect x="913" y="507" width="1" height="12.9" fill="#ef5350"/><rect x="911" y="509.9" width="5" height="6.7" fill="#ef5350"/><rect x="921" y="494.9" width="1" height="23.7" fill="#26a69a"/><rect x="919" y="502.2" width="5" height="13.5" fill="#26a69a"/><rect x="929" y="494.9" width="1" height="15" fill="#ef5350"/><rect x="927" y="502.2" width="5" height="4.3" fill="#ef5350"/><rect x="937" y="506.1" width="1" height="32.7" fill="#ef5350"/><rect x="935" y="506.1" width="5" height="28.3" fill="#ef5350"/><rect x="944" y="531.1" width="1" height="14.8" fill="#ef5350"/><rect x="942" y="534" width="5" height="1" fill="#ef5350"/><rect x="952" y="524.2" width="1" height="19.8" fill="#ef5350"/><rect x="950" y="534" width="5" height="7.5" fill="#ef5350"/><rect x="960" y="531.1" width="1" height="29.6" fill="#ef5350"/><rect x="958" y="541.1" width="5" height="9.6" fill="#ef5350"/><rect x="968" y="506.9" width="1" height="56.9" fill="#26a69a"/><rect x="966" y="511.9" width="5" height="38.8" fill="#26a69a"/><rect x="974" y="512" width="5" height="1" fill="#ef5350"/><rect x="983" y="502.3" width="1" height="43.2" fill="#26a69a"/><rect x="981" y="504" width="5" height="32.9" fill="#26a69a"/><rect x="991" y="493.1" width="1" height="45.5" fill="#ef5350"/><rect x="989" y="503" width="5" height="35.6" fill="#ef5350"/><rect x="999" y="528" width="1" height="36.5" fill="#ef5350"/><rect x="997" y="537.8" width="5" height="24" fill="#ef5350"/><rect x="1007" y="545.3" width="1" height="26.2" fill="#26a69a"/><rect x="1005" y="547.8" width="5" height="14" fill="#26a69a"/><rect x="1014" y="544" width="1" height="30.7" fill="#ef5350"/><rect x="1012" y="547.8" width="5" height="21.2" fill="#ef5350"/><rect x="1022" y="561.8" width="1" height="15.8" fill="#ef5350"/><rect x="1020" y="568" width="5" height="5.8" fill="#ef5350"/><rect x="1028" y="550.1" width="5" height="23.7" fill="#26a69a"/><rect x="1038" y="514.2" width="1" height="36.5" fill="#26a69a"/><rect x="1036" y="520" width="5" height="30.7" fill="#26a69a"/><rect x="1046" y="520" width="1" height="24" fill="#ef5350"/><rect x="1044" y="520" width="5" height="19.6" fill="#ef5350"/><rect x="1053" y="538.8" width="1" height="23" fill="#ef5350"/><rect x="1051" y="538.8" width="5" height="10" fill="#ef5350"/><rect x="1061" y="543" width="1" height="26.9" fill="#ef5350"/><rect x="1059" y="547.8" width="5" height="20.2" fill="#ef5350"/><rect x="1069" y="565.1" width="1" height="34.6" fill="#ef5350"/><rect x="1067" y="567" width="5" height="29.8" fill="#ef5350"/><rect x="1077" y="569" width="1" height="28.8" fill="#26a69a"/><rect x="1075" y="580.1" width="5" height="16.7" fill="#26a69a"/><rect x="1082" y="580" width="5" height="1" fill="#26a69a"/><rect x="1092" y="632.9" width="1" height="42.7" fill="#ef5350"/><rect x="1090" y="632.9" width="5" height="39.3" fill="#ef5350"/><rect x="1100" y="631.1" width="1" height="41.6" fill="#26a69a"/><rect x="1098" y="646.1" width="5" height="26.6" fill="#26a69a"/><rect x="1108" y="621.1" width="1" height="34.5" fill="#ef5350"/><rect x="1106" y="645" width="5" height="10.6" fill="#ef5350"/><rect x="1116" y="640.2" width="1" height="16.6" fill="#ef5350"/><rect x="1114" y="655.2" width="5" height="1.6" fill="#ef5350"/><rect x="1123" y="645" width="1" height="19.7" fill="#26a69a"/><rect x="1121" y="645" width="5" height="11.8" fill="#26a69a"/><rect x="1131" y="644.7" width="1" height="32" fill="#ef5350"/><rect x="1129" y="644.7" width="5" height="30.7" fill="#ef5350"/><rect x="1137" y="655.6" width="5" height="18.9" fill="#26a69a"/><rect x="1147" y="654" width="1" height="13.7" fill="#ef5350"/><rect x="1145" y="656.1" width="5" height="9.7" fill="#ef5350"/><rect x="1154" y="651.8" width="1" height="19.7" fill="#ef5350"/><rect x="1152" y="665.2" width="5" height="2.5" fill="#ef5350"/><rect x="1162" y="640.4" width="1" height="27.3" fill="#26a69a"/><rect x="1160" y="643.8" width="5" height="23.9" fill="#26a69a"/><rect x="1170" y="631.1" width="1" height="21.6" fill="#26a69a"/><rect x="1168" y="635.9" width="5" height="8.8" fill="#26a69a"/><rect x="1178" y="617" width="1" height="21.6" fill="#26a69a"/><rect x="1176" y="635.2" width="5" height="1.6" fill="#26a69a"/><rect x="1186" y="615.2" width="1" height="30.2" fill="#26a69a"/><rect x="1184" y="622" width="5" height="13.6" fill="#26a69a"/><rect x="1191" y="622" width="5" height="1" fill="#26a69a"/>
<rect x="581" y="483.1" width="12" height="3.8" fill="#2962ff"/><rect x="585.1" y="479" width="3.8" height="12" fill="#2962ff"/>
<rect x="1040" y="442.9" width="12" height="3.8" fill="#2962ff"/><rect x="1044.1" y="438.8" width="3.8" height="12" fill="#2962ff"/>
<line x1="2" y1="622.5" x2="1251" y2="622.5" stroke="#26a69a" stroke-width="1" stroke-dasharray="1 2"/>
<line x1="2" y1="924.5" x2="1251" y2="924.5" stroke="#9598a1" stroke-width="1" stroke-dasharray="4 3" opacity="0.6"/>
<rect x="1" y="924.5" width="6" height="2" fill="#ff5252"/><rect x="8" y="924.5" width="7" height="4.3" fill="#ff5252"/><rect x="16" y="924.5" width="7" height="8.4" fill="#ff5252"/><rect x="24" y="924.5" width="6" height="9.1" fill="#ff5252"/><rect x="32" y="924.5" width="6" height="8.4" fill="#ffcdd2"/><rect x="40" y="924.5" width="6" height="6.4" fill="#ffcdd2"/><rect x="47" y="924.5" width="7" height="5.3" fill="#ffcdd2"/><rect x="55" y="924.5" width="7" height="1.1" fill="#ffcdd2"/><rect x="63" y="923" width="6" height="1.5" fill="#26a69a"/><rect x="71" y="919.1" width="6" height="5.4" fill="#26a69a"/><rect x="78" y="916.1" width="7" height="8.4" fill="#26a69a"/><rect x="86" y="915" width="7" height="9.5" fill="#26a69a"/><rect x="94" y="911" width="6" height="13.5" fill="#26a69a"/><rect x="102" y="909" width="6" height="15.5" fill="#26a69a"/><rect x="110" y="906.1" width="6" height="18.4" fill="#26a69a"/><rect x="117" y="902" width="7" height="22.5" fill="#26a69a"/><rect x="125" y="901" width="7" height="23.5" fill="#26a69a"/><rect x="133" y="899.9" width="6" height="24.6" fill="#26a69a"/><rect x="141" y="901" width="6" height="23.5" fill="#b2dfdb"/><rect x="148" y="905" width="7" height="19.5" fill="#b2dfdb"/><rect x="156" y="912" width="7" height="12.5" fill="#b2dfdb"/><rect x="164" y="920" width="6" height="4.5" fill="#b2dfdb"/><rect x="172" y="924.5" width="6" height="3.5" fill="#ff5252"/><rect x="180" y="924.5" width="6" height="6.4" fill="#ff5252"/><rect x="187" y="924.5" width="7" height="8.4" fill="#ff5252"/><rect x="195" y="924.5" width="7" height="10.3" fill="#ff5252"/><rect x="203" y="924.5" width="6" height="10.3" fill="#ff5252"/><rect x="211" y="924.5" width="6" height="10.3" fill="#ffcdd2"/><rect x="218" y="924.5" width="7" height="10.3" fill="#ff5252"/><rect x="226" y="924.5" width="7" height="11.4" fill="#ff5252"/><rect x="234" y="924.5" width="6" height="7.3" fill="#ffcdd2"/><rect x="242" y="924.5" width="6" height="6.4" fill="#ffcdd2"/><rect x="250" y="924.5" width="6" height="3.5" fill="#ffcdd2"/><rect x="257" y="924.5" width="7" height="4.6" fill="#ff5252"/><rect x="265" y="924.5" width="7" height="3.5" fill="#ffcdd2"/><rect x="273" y="924.5" width="6" height="5.3" fill="#ff5252"/><rect x="281" y="924.5" width="6" height="4.6" fill="#ffcdd2"/><rect x="288" y="924.5" width="7" height="3.5" fill="#ffcdd2"/><rect x="296" y="924.5" width="7" height="2.3" fill="#ffcdd2"/><rect x="304" y="924.5" width="6" height="1.6" fill="#ffcdd2"/><rect x="312" y="924.5" width="6" height="1" fill="#ffcdd2"/><rect x="320" y="924.1" width="6" height="1" fill="#26a69a"/><rect x="327" y="921.1" width="7" height="3.4" fill="#26a69a"/><rect x="335" y="919.1" width="7" height="5.4" fill="#26a69a"/><rect x="343" y="917" width="6" height="7.5" fill="#26a69a"/><rect x="351" y="915" width="6" height="9.5" fill="#26a69a"/><rect x="358" y="914" width="7" height="10.5" fill="#26a69a"/><rect x="366" y="914" width="7" height="10.5" fill="#b2dfdb"/><rect x="374" y="912.9" width="6" height="11.6" fill="#26a69a"/><rect x="382" y="912.9" width="6" height="11.6" fill="#26a69a"/><rect x="390" y="911" width="6" height="13.5" fill="#26a69a"/><rect x="397" y="909.9" width="7" height="14.6" fill="#26a69a"/><rect x="405" y="909" width="7" height="15.5" fill="#26a69a"/><rect x="413" y="907.9" width="6" height="16.6" fill="#26a69a"/><rect x="421" y="909" width="6" height="15.5" fill="#b2dfdb"/><rect x="428" y="911" width="7" height="13.5" fill="#b2dfdb"/><rect x="436" y="912.9" width="7" height="11.6" fill="#b2dfdb"/><rect x="444" y="915" width="6" height="9.5" fill="#b2dfdb"/><rect x="452" y="914" width="6" height="10.5" fill="#26a69a"/><rect x="459" y="914" width="7" height="10.5" fill="#26a69a"/><rect x="467" y="915" width="7" height="9.5" fill="#b2dfdb"/><rect x="475" y="921.1" width="7" height="3.4" fill="#b2dfdb"/><rect x="483" y="923" width="6" height="1.5" fill="#b2dfdb"/><rect x="491" y="922" width="6" height="2.5" fill="#26a69a"/><rect x="498" y="923" width="7" height="1.5" fill="#b2dfdb"/><rect x="506" y="923" width="7" height="1.5" fill="#b2dfdb"/><rect x="514" y="924.5" width="6" height="1" fill="#ff5252"/><rect x="522" y="924.5" width="6" height="1.1" fill="#ff5252"/><rect x="529" y="923" width="7" height="1.5" fill="#26a69a"/><rect x="537" y="923" width="7" height="1.5" fill="#26a69a"/><rect x="545" y="918" width="7" height="6.5" fill="#26a69a"/><rect x="553" y="914" width="6" height="10.5" fill="#26a69a"/><rect x="561" y="912" width="6" height="12.5" fill="#26a69a"/><rect x="568" y="912" width="7" height="12.5" fill="#26a69a"/><rect x="576" y="912.9" width="7" height="11.6" fill="#b2dfdb"/><rect x="584" y="915" width="6" height="9.5" fill="#b2dfdb"/><rect x="592" y="915.9" width="6" height="8.6" fill="#b2dfdb"/><rect x="599" y="917" width="7" height="7.5" fill="#b2dfdb"/><rect x="607" y="918" width="7" height="6.5" fill="#b2dfdb"/><rect x="615" y="919.1" width="7" height="5.4" fill="#b2dfdb"/><rect x="623" y="920" width="6" height="4.5" fill="#b2dfdb"/><rect x="631" y="921.1" width="6" height="3.4" fill="#b2dfdb"/><rect x="638" y="923" width="7" height="1.5" fill="#b2dfdb"/><rect x="646" y="924.5" width="7" height="1.1" fill="#ff5252"/><rect x="654" y="921.1" width="6" height="3.4" fill="#26a69a"/><rect x="662" y="918" width="6" height="6.5" fill="#26a69a"/><rect x="669" y="919.1" width="7" height="5.4" fill="#b2dfdb"/><rect x="677" y="919.1" width="7" height="5.4" fill="#b2dfdb"/><rect x="685" y="922" width="7" height="2.5" fill="#b2dfdb"/><rect x="693" y="924.5" width="6" height="1" fill="#ff5252"/><rect x="701" y="924.5" width="6" height="1.1" fill="#ff5252"/><rect x="708" y="924.5" width="7" height="1.1" fill="#ff5252"/><rect x="716" y="924.5" width="7" height="2.3" fill="#ff5252"/><rect x="724" y="924.5" width="6" height="4.3" fill="#ff5252"/><rect x="732" y="924.5" width="6" height="5.3" fill="#ff5252"/><rect x="739" y="924.5" width="7" height="6.4" fill="#ff5252"/><rect x="747" y="924.5" width="7" height="5.3" fill="#ffcdd2"/><rect x="755" y="924.5" width="7" height="6.4" fill="#ff5252"/><rect x="763" y="924.5" width="6" height="18.2" fill="#ff5252"/><rect x="771" y="924.5" width="6" height="26.2" fill="#ff5252"/><rect x="778" y="924.5" width="7" height="33.3" fill="#ff5252"/><rect x="786" y="924.5" width="7" height="36.3" fill="#ff5252"/><rect x="794" y="924.5" width="6" height="36.3" fill="#ff5252"/><rect x="802" y="924.5" width="6" height="34.5" fill="#ffcdd2"/><rect x="809" y="924.5" width="7" height="31.3" fill="#ffcdd2"/><rect x="817" y="924.5" width="7" height="25.5" fill="#ffcdd2"/><rect x="825" y="924.5" width="7" height="22.4" fill="#ffcdd2"/><rect x="833" y="924.5" width="6" height="20.5" fill="#ffcdd2"/><rect x="841" y="924.5" width="6" height="19.4" fill="#ffcdd2"/><rect x="848" y="924.5" width="7" height="19.4" fill="#ff5252"/><rect x="856" y="924.5" width="7" height="20.5" fill="#ff5252"/><rect x="864" y="924.5" width="6" height="18.2" fill="#ffcdd2"/><rect x="872" y="924.5" width="6" height="14.4" fill="#ffcdd2"/><rect x="879" y="924.5" width="7" height="14.4" fill="#ffcdd2"/><rect x="887" y="924.5" width="7" height="8.4" fill="#ffcdd2"/><rect x="895" y="924.5" width="7" height="5.3" fill="#ffcdd2"/><rect x="903" y="924.5" width="6" height="2.3" fill="#ffcdd2"/><rect x="911" y="923" width="6" height="1.5" fill="#26a69a"/><rect x="918" y="920" width="7" height="4.5" fill="#26a69a"/><rect x="926" y="919.1" width="7" height="5.4" fill="#26a69a"/><rect x="934" y="920" width="6" height="4.5" fill="#b2dfdb"/><rect x="942" y="920" width="6" height="4.5" fill="#b2dfdb"/><rect x="949" y="920" width="7" height="4.5" fill="#b2dfdb"/><rect x="957" y="921.1" width="7" height="3.4" fill="#b2dfdb"/><rect x="965" y="918" width="6" height="6.5" fill="#26a69a"/><rect x="973" y="916.1" width="6" height="8.4" fill="#26a69a"/><rect x="981" y="914" width="6" height="10.5" fill="#26a69a"/><rect x="988" y="916.1" width="7" height="8.4" fill="#b2dfdb"/><rect x="996" y="919.1" width="7" height="5.4" fill="#b2dfdb"/><rect x="1004" y="919.1" width="6" height="5.4" fill="#b2dfdb"/><rect x="1012" y="921.1" width="6" height="3.4" fill="#b2dfdb"/><rect x="1019" y="923" width="7" height="1.5" fill="#b2dfdb"/><rect x="1027" y="921.1" width="7" height="3.4" fill="#26a69a"/><rect x="1035" y="918" width="6" height="6.5" fill="#26a69a"/><rect x="1043" y="917" width="6" height="7.5" fill="#26a69a"/><rect x="1051" y="917" width="6" height="7.5" fill="#b2dfdb"/><rect x="1058" y="919.1" width="7" height="5.4" fill="#b2dfdb"/><rect x="1066" y="923" width="7" height="1.5" fill="#b2dfdb"/><rect x="1074" y="923" width="6" height="1.5" fill="#b2dfdb"/><rect x="1082" y="923" width="6" height="1.5" fill="#b2dfdb"/><rect x="1089" y="924.5" width="7" height="7.3" fill="#ff5252"/><rect x="1097" y="924.5" width="7" height="9.4" fill="#ff5252"/><rect x="1105" y="924.5" width="6" height="10.3" fill="#ff5252"/><rect x="1113" y="924.5" width="6" height="9.4" fill="#ffcdd2"/><rect x="1121" y="924.5" width="6" height="8.4" fill="#ffcdd2"/><rect x="1128" y="924.5" width="7" height="8.4" fill="#ff5252"/><rect x="1136" y="924.5" width="7" height="6.4" fill="#ffcdd2"/><rect x="1144" y="924.5" width="6" height="5.3" fill="#ffcdd2"/><rect x="1152" y="924.5" width="6" height="3.5" fill="#ffcdd2"/><rect x="1159" y="924.5" width="7" height="1" fill="#ffcdd2"/><rect x="1167" y="921.1" width="7" height="3.4" fill="#26a69a"/><rect x="1175" y="918" width="6" height="6.5" fill="#26a69a"/><rect x="1183" y="915.2" width="6" height="9.3" fill="#26a69a"/><rect x="1191" y="913.8" width="6" height="10.7" fill="#26a69a"/>
<path d="M2.1 958.3 L9.1 961.6 L18.1 967.6 L27.2 970.7 L34.8 971.7 L42.3 971.4 L49.9 971.9 L57.4 968.4 L66.5 965.4 L75.6 959.3 L87.7 953 L98.3 944.2 L111.9 933.6 L119.4 924.5 L128.5 916.2 L136 909.7 L143.6 904.6 L149.7 904.3 L158.7 907.9 L166.3 915.5 L173.8 923.8 L182.9 929.1 L192 933.6 L200 937.4 L207.1 940.4 L217.7 944.2 L228.3 948.4 L234.3 946.9 L243.4 946.9 L252.4 944.7 L260 946.2 L267.6 946.5 L276.6 950 L285.7 950.6 L300.8 950 L315.9 948 L325 946.9 L338.6 941.9 L353.7 932.9 L368.8 927.6 L376.4 923.8 L390 917 L402.1 909.4 L415.7 901.6 L430.8 898.1 L445.9 897.3 L462.6 890.5 L469.4 890.2 L477.7 895.1 L488.3 896.6 L507.9 896.6 L523 898.4 L539.7 896.1 L548.7 889.8 L563.8 878.9 L579 873.9 L585 873.9 L600.1 872.4 L616.7 871.3 L631.9 872.8 L648.5 876.5 L665.1 867.5 L679.5 865.9 L690.8 869.8 L702.9 872.1 L718 873.4 L728.6 877.4 L742.2 881.8 L757.3 884 L766.4 901.9 L777 923 L787.6 939.7 L795.1 949.5 L802.7 957.8 L813.3 963.1 L825.4 966.1 L840.5 972.9 L855.6 983.5 L866.2 987.6 L873.7 986.2 L882.8 989.6 L890.4 985.3 L908.5 979.7 L928.1 972.2 L946.3 971.4 L959.9 971.4 L975 963.6 L983.3 958.6 L990.9 958.6 L997.7 960.4 L1006.7 960.1 L1014.3 961.6 L1021.9 962.7 L1029.4 960.8 L1038.5 954.8 L1050.6 951.8 L1061.2 952.2 L1068.7 955.5 L1083.8 956.3 L1092.9 966.1 L1103.5 971.1 L1115.6 975.5 L1123.1 975.5 L1130.7 977.8 L1141.3 977.2 L1153.4 976.7 L1164 972.2 L1175 966.9 L1193.5 956.4" fill="none" stroke="#2962ff" stroke-width="1" stroke-linejoin="round" stroke-linecap="round" />
<path d="M2.1 955.8 L15.1 958.6 L30.2 963.1 L45.4 966.1 L60.5 966.9 L75.6 964.6 L90.7 960.1 L105.8 953 L120.9 942.7 L136 932.1 L148.1 923.8 L158.7 920 L166.3 919.3 L173.8 919.7 L189 923 L200 926.1 L210.1 930.6 L225.2 935.9 L240.4 939.7 L255.5 942.4 L270.6 944.5 L285.7 946.2 L300.8 947.5 L315.9 947.8 L331 947.2 L346.2 944.2 L361.3 938.9 L376.4 933.6 L390 929.5 L405.1 923 L420.2 916.2 L435.4 909.7 L450.5 904.6 L470.1 898.5 L488.3 897.3 L510.9 897 L526 897.6 L541.2 897 L556.3 892.5 L571.4 886.8 L585 883.4 L600.1 879.2 L615.2 876.5 L630.4 875 L648.5 874.7 L668.1 871.9 L683.3 870.1 L698.4 870.6 L716.5 871.3 L736.2 874.7 L757.3 878.4 L766.4 883 L775.5 892 L785 902.6 L795.1 914.7 L810.2 932.1 L825.4 944.2 L840.5 953.3 L855.6 963.9 L870.7 972.2 L885.8 977.2 L900.9 979.4 L916.1 979.3 L931.2 977.2 L946.3 974.9 L961.4 973.7 L975 971.4 L990.1 966.6 L1005.2 964.2 L1020.4 962.8 L1035.5 960.8 L1050.6 958.1 L1065.7 956.6 L1083.8 956.3 L1095.9 959 L1111.1 964.2 L1126.2 968.7 L1141.3 971.9 L1156.4 973.4 L1175 971.4 L1193.5 966.3" fill="none" stroke="#ff6d00" stroke-width="1" stroke-linejoin="round" stroke-linecap="round" />
<line x1="2" y1="1032.5" x2="1251" y2="1032.5" stroke="#787b86" stroke-width="1" stroke-dasharray="5 6" stroke-dashoffset="0"/>
<line x1="2" y1="1060.5" x2="1251" y2="1060.5" stroke="#787b86" stroke-opacity="0.5" stroke-width="1" stroke-dasharray="5 6"/>
<line x1="2" y1="1088.5" x2="1251" y2="1088.5" stroke="#787b86" stroke-width="1" stroke-dasharray="5 6"/>
<path d="M2.1 1102.5 L9.1 1097.7 L15.1 1094.7 L40.8 1094.4 L49.9 1094.4 L58.2 1086.7 L65.8 1084.9 L73.3 1070.5 L81.6 1065.7 L89.2 1058.4 L96.8 1047.8 L104.3 1031.7 L113.4 1022.9 L120.9 1022.4 L128.5 1021.4 L136 1019.1 L145.1 1019.6 L151.2 1022.1 L158.7 1036.5 L166.3 1056.9 L173.8 1082.6 L181.4 1094.7 L189 1099.2 L195 1099.5 L204.1 1098.9 L213.1 1094.7 L221.5 1092.4 L229.8 1093.5 L235.8 1087.9 L243.4 1082.3 L252.1 1074.3 L260 1077.7 L268 1074.3 L276.6 1080.3 L284.2 1078.1 L291.7 1075 L299.3 1070 L306.9 1067.2 L314.4 1069.3 L322.7 1068.2 L329.5 1063.7 L337.9 1056.1 L346.2 1045.6 L353.7 1035 L361.3 1027.4 L368.8 1025.6 L376.4 1024 L384 1024.4 L393 1019.4 L400.6 1019.4 L408.1 1016.4 L415.7 1015.6 L423.3 1017.3 L430.8 1020.3 L439.1 1025.2 L447.4 1025.5 L455 1022.1 L462.6 1019.4 L469.4 1020.6 L477.7 1038.8 L486 1051.3 L492.8 1054.2 L501.1 1044 L509.4 1037.5 L517 1040 L524.5 1038.8 L532.1 1034.2 L541.2 1026.4 L548.7 1018.1 L556.3 1017.1 L563.1 1015.3 L571.4 1017.1 L579 1017.9 L587.3 1021.4 L594.1 1019.9 L601.6 1019.4 L609.2 1016.1 L616.7 1015.3 L624.3 1015.3 L631.9 1014.9 L640.9 1018.4 L649.2 1023.9 L657.6 1023.2 L664.4 1020.9 L671.2 1020.6 L679.5 1022.9 L687.8 1032.4 L695.4 1036 L702.9 1040.6 L711.2 1034.2 L718.8 1029.4 L727.1 1032.4 L734.7 1036.9 L742.2 1042.1 L749.8 1036.5 L758.1 1036 L766.4 1056.1 L774 1082.6 L781.5 1104.2 L789.1 1104.2 L796.6 1105 L804.2 1104.8 L811.7 1103.4 L820.1 1099.5 L827.6 1098.9 L835.9 1100.4 L843.5 1103.7 L851 1105.7 L858.6 1104.5 L866.2 1102.2 L874.5 1092 L881.3 1093.2 L889.6 1082.3 L897.2 1081.4 L905.5 1070.2 L913 1074.6 L920.6 1072 L928.9 1070.5 L935.7 1073.5 L944 1081.1 L952.3 1087.9 L959.9 1089.1 L967.5 1075 L975 1060.7 L983.3 1039.8 L990.9 1049.3 L999.2 1069 L1006.7 1084.1 L1014.3 1092.7 L1021.9 1092.4 L1029.4 1092 L1037.7 1073.5 L1046.1 1061 L1052.9 1060.7 L1061.2 1076.5 L1068.7 1090.9 L1077 1095.7 L1083.8 1094.2 L1092.9 1094.7 L1100.5 1094.7 L1108 1096.2 L1116.3 1092.9 L1123.1 1092.9 L1130.7 1096.2 L1139 1096.5 L1147.3 1099.5 L1154.9 1098 L1161.2 1095 L1167.9 1087.7 L1177.7 1076.7 L1185.6 1066.3 L1193.3 1049.2" fill="none" stroke="#2962ff" stroke-width="1" stroke-linejoin="round" stroke-linecap="round" />
<path d="M2.1 1098.5 L9.1 1099.2 L30.2 1097.7 L49.9 1096.2 L57.4 1091.7 L65.8 1088.6 L75.6 1078.1 L84.7 1069 L95.2 1058.4 L104.3 1044.8 L112.6 1032.7 L120.9 1025.9 L128.5 1022.9 L136 1021.4 L145.1 1020.6 L157.2 1026.7 L166.3 1041 L173.8 1062.9 L181.4 1081.1 L189 1092.4 L195 1096.2 L201 1098.5 L207.1 1099.2 L216.2 1096.5 L228.3 1094.2 L235.8 1091.7 L243.4 1087.9 L251.7 1081.4 L260 1077.7 L268 1075.3 L276.6 1077.3 L290.2 1078.1 L300.8 1073.8 L306.9 1071 L315.9 1068.7 L329.5 1067.2 L337.1 1062.9 L346.2 1053.9 L353.7 1044 L361.3 1035.7 L368.8 1029.7 L376.4 1025.9 L384 1025.2 L390 1023.3 L400.6 1020.9 L409.7 1018.4 L420.2 1016.4 L430.8 1017.9 L439.9 1020.9 L449 1024 L456.5 1023.6 L464.1 1022.1 L470.1 1021.1 L477.7 1026.7 L485.2 1036.5 L493.6 1048.1 L501.1 1049.6 L509.4 1045.1 L517.7 1040.6 L524.5 1039.2 L532.1 1038 L541.2 1032.7 L548.7 1025.9 L556.3 1020.3 L563.8 1016.5 L571.4 1016.5 L579 1017.1 L585 1018.4 L594.1 1019.9 L603.1 1020.3 L612.2 1018.1 L622.8 1016.1 L633.4 1014.9 L642.4 1016.4 L651.5 1019.9 L660.6 1022.4 L669.7 1021.8 L678.7 1021.7 L687.8 1025.9 L696.9 1032 L704.4 1036.9 L712 1036.5 L719.5 1034.2 L727.1 1032.3 L734.7 1034.2 L742.2 1037.5 L749.8 1038.5 L758.1 1038.5 L766.4 1043.6 L774 1059.9 L780 1078.1 L789.1 1096.2 L796.6 1104.5 L804.2 1104.5 L811.7 1104 L820.1 1101.9 L829.9 1100 L837.4 1100 L845 1101.9 L854.1 1104 L866.2 1104 L874.5 1098.8 L881.3 1095.4 L889.6 1088.9 L897.2 1085.6 L906.2 1077.7 L913.8 1075 L921.3 1072.5 L929.7 1072.3 L937.2 1072.8 L944.8 1076.2 L952.3 1081.1 L959.9 1086.1 L967.5 1083.8 L975 1075 L982.6 1057.6 L990.9 1050.1 L999.2 1053.9 L1006.7 1069 L1014.3 1083.3 L1021.9 1090.1 L1029.4 1092.4 L1037.7 1085.6 L1046.1 1075 L1054.4 1065.2 L1061.2 1066.3 L1068.7 1076.5 L1077 1088.6 L1083.8 1093.5 L1092.9 1095.1 L1100.5 1094.4 L1108 1095.1 L1116.3 1094.2 L1124.7 1093.6 L1132.2 1094.4 L1139.8 1095.4 L1147.3 1097.4 L1154.9 1098.5 L1162.4 1097.5 L1169.7 1093.2 L1177.7 1086.5 L1185.6 1076.1 L1193.6 1063.5" fill="none" stroke="#ff6d00" stroke-width="1" stroke-linejoin="round" stroke-linecap="round" />
</g>
<rect x="2" y="850" width="1319" height="1" fill="#e0e3eb"/><rect x="2" y="1003.5" width="1319" height="1" fill="#e0e3eb"/><rect x="2" y="1116" width="1319" height="1" fill="#e0e3eb"/><rect x="1251" y="42" width="1" height="1102" fill="#e0e3eb"/>
<text x="1261.5" y="74.9" font-size="13" fill="#74777f" text-anchor="start" font-weight="normal" letter-spacing="0.15" >4240.00</text>
<text x="1261.5" y="104.9" font-size="13" fill="#131722" text-anchor="start" font-weight="normal" letter-spacing="0.15" >4220.00</text>
<text x="1261.5" y="134.9" font-size="13" fill="#131722" text-anchor="start" font-weight="normal" letter-spacing="0.15" >4200.00</text>
<text x="1261.5" y="164.9" font-size="13" fill="#131722" text-anchor="start" font-weight="normal" letter-spacing="0.15" >4180.00</text>
<text x="1261.5" y="194.9" font-size="13" fill="#131722" text-anchor="start" font-weight="normal" letter-spacing="0.15" >4160.00</text>
<text x="1261.5" y="224.9" font-size="13" fill="#131722" text-anchor="start" font-weight="normal" letter-spacing="0.15" >4140.00</text>
<text x="1261.5" y="254.9" font-size="13" fill="#131722" text-anchor="start" font-weight="normal" letter-spacing="0.15" >4120.00</text>
<text x="1261.5" y="284.9" font-size="13" fill="#131722" text-anchor="start" font-weight="normal" letter-spacing="0.15" >4100.00</text>
<text x="1261.5" y="314.9" font-size="13" fill="#131722" text-anchor="start" font-weight="normal" letter-spacing="0.15" >4080.00</text>
<text x="1261.5" y="344.9" font-size="13" fill="#131722" text-anchor="start" font-weight="normal" letter-spacing="0.15" >4060.00</text>
<text x="1261.5" y="374.9" font-size="13" fill="#131722" text-anchor="start" font-weight="normal" letter-spacing="0.15" >4040.00</text>
<text x="1261.5" y="404.9" font-size="13" fill="#131722" text-anchor="start" font-weight="normal" letter-spacing="0.15" >4020.00</text>
<text x="1261.5" y="435.9" font-size="13" fill="#131722" text-anchor="start" font-weight="normal" letter-spacing="0.15" >4000.00</text>
<text x="1261.5" y="465.9" font-size="13" fill="#131722" text-anchor="start" font-weight="normal" letter-spacing="0.15" >3980.00</text>
<text x="1261.5" y="495.9" font-size="13" fill="#131722" text-anchor="start" font-weight="normal" letter-spacing="0.15" >3960.00</text>
<text x="1261.5" y="525.9" font-size="13" fill="#131722" text-anchor="start" font-weight="normal" letter-spacing="0.15" >3940.00</text>
<text x="1261.5" y="555.9" font-size="13" fill="#131722" text-anchor="start" font-weight="normal" letter-spacing="0.15" >3920.00</text>
<text x="1261.5" y="585.9" font-size="13" fill="#131722" text-anchor="start" font-weight="normal" letter-spacing="0.15" >3900.00</text>
<text x="1261.5" y="615.9" font-size="13" fill="#131722" text-anchor="start" font-weight="normal" letter-spacing="0.15" >3880.00</text>
<text x="1261.5" y="645.9" font-size="13" fill="#131722" text-anchor="start" font-weight="normal" letter-spacing="0.15" >3860.00</text>
<text x="1261.5" y="675.9" font-size="13" fill="#131722" text-anchor="start" font-weight="normal" letter-spacing="0.15" >3840.00</text>
<text x="1261.5" y="705.9" font-size="13" fill="#131722" text-anchor="start" font-weight="normal" letter-spacing="0.15" >3820.00</text>
<text x="1261.5" y="735.9" font-size="13" fill="#131722" text-anchor="start" font-weight="normal" letter-spacing="0.15" >3800.00</text>
<text x="1261.5" y="765.9" font-size="13" fill="#131722" text-anchor="start" font-weight="normal" letter-spacing="0.15" >3780.00</text>
<text x="1261.5" y="795.9" font-size="13" fill="#131722" text-anchor="start" font-weight="normal" letter-spacing="0.15" >3760.00</text>
<text x="1261.5" y="826.9" font-size="13" fill="#131722" text-anchor="start" font-weight="normal" letter-spacing="0.15" >3740.00</text>
<text x="1261.5" y="888.7" font-size="13" fill="#131722" text-anchor="start" font-weight="normal" letter-spacing="0.15" >20.00</text>
<text x="1261.5" y="928.4" font-size="13" fill="#131722" text-anchor="start" font-weight="normal" letter-spacing="0.15" >0.00</text>
<text x="1261.5" y="1036.4" font-size="13" fill="#131722" text-anchor="start" font-weight="normal" letter-spacing="0.15" >80.00</text>
<text x="1261.5" y="1110.9" font-size="13" fill="#131722" text-anchor="start" font-weight="normal" letter-spacing="0.15" >0.00</text>
<path d="M1251 437 H1312.8 Q1314.8 437 1314.8 439 V451.5 Q1314.8 453.5 1312.8 453.5 H1251 Z" fill="#2962ff"/><text x="1261.5" y="449.65" font-size="13" fill="#ffffff" text-anchor="start" font-weight="normal" letter-spacing="0.15" >3990.75</text>
<path d="M1251 456.1 H1312.8 Q1314.8 456.1 1314.8 458.1 V470.8 Q1314.8 472.8 1312.8 472.8 H1251 Z" fill="#43a047"/><text x="1261.5" y="468.85" font-size="13" fill="#ffffff" text-anchor="start" font-weight="normal" letter-spacing="0.15" >3978.54</text>
<path d="M1251 553.2 H1311.6 Q1313.6 553.2 1313.6 555.2 V567.8 Q1313.6 569.8 1311.6 569.8 H1251 Z" fill="#ff6d00"/><text x="1261.5" y="565.9" font-size="13" fill="#ffffff" text-anchor="start" font-weight="normal" letter-spacing="0.15" >3914.08</text>
<path d="M1251 614.1 H1311.7 Q1313.7 614.1 1313.7 616.1 V628.5 Q1313.7 630.5 1311.7 630.5 H1251 Z" fill="#26a69a"/><text x="1261.5" y="626.7" font-size="13" fill="#ffffff" text-anchor="start" font-weight="normal" letter-spacing="0.15" >3873.32</text>
<path d="M1251 640.2 H1304.7 Q1306.7 640.2 1306.7 642.2 V654.7 Q1306.7 656.7 1304.7 656.7 H1251 Z" fill="#26a69a"/><text x="1261.5" y="652.85" font-size="13" fill="#ffffff" text-anchor="start" font-weight="normal" letter-spacing="0.15" >1.434B</text>
<path d="M1251 905.2 H1290 Q1292 905.2 1292 907.2 V920.8 Q1292 922.8 1290 922.8 H1251 Z" fill="#26a69a"/><text x="1261.5" y="918.4" font-size="13" fill="#ffffff" text-anchor="start" font-weight="normal" letter-spacing="0.15" >5.07</text>
<path d="M1251 949.3 H1302 Q1304 949.3 1304 951.3 V963.5 Q1304 965.5 1302 965.5 H1251 Z" fill="#2962ff"/><text x="1261.5" y="961.8" font-size="13" fill="#ffffff" text-anchor="start" font-weight="normal" letter-spacing="0.15" >−16.91</text>
<path d="M1251 966.3 H1303.7 Q1305.7 966.3 1305.7 968.3 V980.8 Q1305.7 982.8 1303.7 982.8 H1251 Z" fill="#ff6d00"/><text x="1261.5" y="978.95" font-size="13" fill="#ffffff" text-anchor="start" font-weight="normal" letter-spacing="0.15" >−21.98</text>
<path d="M1251 1043 H1295.7 Q1297.7 1043 1297.7 1045 V1056.5 Q1297.7 1058.5 1295.7 1058.5 H1251 Z" fill="#2962ff"/><text x="1261.5" y="1055.15" font-size="13" fill="#ffffff" text-anchor="start" font-weight="normal" letter-spacing="0.15" >61.22</text>
<path d="M1251 1059.7 H1297.7 Q1299.7 1059.7 1299.7 1061.7 V1073.2 Q1299.7 1075.2 1297.7 1075.2 H1251 Z" fill="#ff6d00"/><text x="1261.5" y="1071.85" font-size="13" fill="#ffffff" text-anchor="start" font-weight="normal" letter-spacing="0.15" >46.02</text>
<text x="1261.6" y="59.9" font-size="11.6" fill="#131722" text-anchor="start" font-weight="normal" letter-spacing="0.1" >USD</text>
<path d="M1289.3 53.6 L1291.6 55.8 L1293.9 53.6" fill="none" stroke="#131722" stroke-width="1.1"/>
<g clip-path="url(#cpt)"><text x="4.1" y="1135.2" font-size="12.6" fill="#131722" text-anchor="middle" font-weight="bold" >Sep</text></g>
<text x="112.5" y="1135.5" font-size="13" fill="#131722" text-anchor="middle" font-weight="normal" >2</text>
<text x="221.5" y="1135.5" font-size="13" fill="#131722" text-anchor="middle" font-weight="normal" >6</text>
<text x="330.5" y="1135.5" font-size="13" fill="#131722" text-anchor="middle" font-weight="normal" >7</text>
<text x="439.5" y="1135.5" font-size="13" fill="#131722" text-anchor="middle" font-weight="normal" >8</text>
<text x="548.5" y="1135.5" font-size="13" fill="#131722" text-anchor="middle" font-weight="normal" >9</text>
<text x="657.5" y="1135.5" font-size="13" fill="#131722" text-anchor="middle" font-weight="normal" >12</text>
<text x="766.5" y="1135.5" font-size="13" fill="#131722" text-anchor="middle" font-weight="normal" >13</text>
<text x="874.5" y="1135.5" font-size="13" fill="#131722" text-anchor="middle" font-weight="normal" >14</text>
<text x="983.5" y="1135.5" font-size="13" fill="#131722" text-anchor="middle" font-weight="normal" >15</text>
<text x="1092.5" y="1135.5" font-size="13" fill="#131722" text-anchor="middle" font-weight="normal" >16</text>
<text x="1201.5" y="1135.5" font-size="13" fill="#131722" text-anchor="middle" font-weight="normal" >19</text>
<circle cx="1286.5" cy="1130.5" r="5" fill="none" stroke="#131722" stroke-width="1.1"/><line x1="1291.5" y1="1130.5" x2="1293.8" y2="1130.5" stroke="#131722" stroke-width="1.1"/><line x1="1290.04" y1="1134.04" x2="1291.66" y2="1135.66" stroke="#131722" stroke-width="1.1"/><line x1="1286.5" y1="1135.5" x2="1286.5" y2="1137.8" stroke="#131722" stroke-width="1.1"/><line x1="1282.96" y1="1134.04" x2="1281.34" y2="1135.66" stroke="#131722" stroke-width="1.1"/><line x1="1281.5" y1="1130.5" x2="1279.2" y2="1130.5" stroke="#131722" stroke-width="1.1"/><line x1="1282.96" y1="1126.96" x2="1281.34" y2="1125.34" stroke="#131722" stroke-width="1.1"/><line x1="1286.5" y1="1125.5" x2="1286.5" y2="1123.2" stroke="#131722" stroke-width="1.1"/><line x1="1290.04" y1="1126.96" x2="1291.66" y2="1125.34" stroke="#131722" stroke-width="1.1"/>
<text x="11.8" y="64.1" font-size="16.2" fill="#131722" text-anchor="start" font-weight="normal" >S&amp;P 500 Index</text>
<text x="126.2" y="64.1" font-size="16" fill="#b2b5be" text-anchor="middle" font-weight="normal" >·</text>
<text x="133.3" y="64.1" font-size="16.2" fill="#131722" text-anchor="start" font-weight="normal" >30</text>
<text x="158.4" y="64.1" font-size="16" fill="#b2b5be" text-anchor="middle" font-weight="normal" >·</text>
<text x="164.8" y="64.1" font-size="16.2" fill="#131722" text-anchor="start" font-weight="normal" >SP</text>
<text x="193.2" y="64.1" font-size="16" fill="#b2b5be" text-anchor="middle" font-weight="normal" >·</text>
<text x="200.3" y="64.1" font-size="16.2" fill="#131722" text-anchor="start" font-weight="normal" >TradingView</text>
<path d="M313 49.3 H324 V66.7 H313 A8.7 8.7 0 0 1 313 49.3 Z" fill="#ebedf1"/>
<path d="M324 49.3 H335.2 A8.7 8.7 0 0 1 335.2 66.7 H324 Z" fill="#f8c8d8"/>
<rect x="310.2" y="56" width="9.8" height="3.6" rx="1.8" fill="#868993"/>
<text x="332.8" y="63" font-size="15" fill="#e91e63" text-anchor="middle" font-weight="bold" >≈</text>
<text x="361" y="63.8" font-size="13" fill="#787b86" text-anchor="start" font-weight="normal" >O</text>
<text x="372.4" y="63.8" font-size="13" fill="#26a69a" text-anchor="start" font-weight="normal" letter-spacing="0.75" >3872.45</text>
<text x="432.1" y="63.8" font-size="13" fill="#787b86" text-anchor="start" font-weight="normal" >H</text>
<text x="442.7" y="63.8" font-size="13" fill="#26a69a" text-anchor="start" font-weight="normal" letter-spacing="0.75" >3873.54</text>
<text x="502.4" y="63.8" font-size="13" fill="#787b86" text-anchor="start" font-weight="normal" >L</text>
<text x="510.7" y="63.8" font-size="13" fill="#26a69a" text-anchor="start" font-weight="normal" letter-spacing="0.75" >3872.45</text>
<text x="570" y="63.8" font-size="13" fill="#787b86" text-anchor="start" font-weight="normal" >C</text>
<text x="580.5" y="63.8" font-size="13" fill="#26a69a" text-anchor="start" font-weight="normal" letter-spacing="0.75" >3873.32</text>
<text x="640" y="63.8" font-size="13" fill="#26a69a" text-anchor="start" font-weight="normal" letter-spacing="0.75" >−0.12 (−0.00%)</text>
<rect x="10.8" y="74.7" width="68.4" height="22.5" rx="3.5" fill="#fff" stroke="#f23645" stroke-width="1"/>
<text x="18.9" y="90.3" font-size="13" fill="#f23645" text-anchor="start" font-weight="normal" letter-spacing="0.75" >3901.33</text>
<text x="88.9" y="90.3" font-size="11.5" fill="#787b86" text-anchor="start" font-weight="normal" letter-spacing="0.3" >95.43</text>
<rect x="128.7" y="74.7" width="68.4" height="22.5" rx="3.5" fill="#fff" stroke="#2962ff" stroke-width="1"/>
<text x="136.8" y="90.3" font-size="13" fill="#2962ff" text-anchor="start" font-weight="normal" letter-spacing="0.75" >3996.76</text>
<text x="11.2" y="118.4" font-size="13.3" fill="#131722" text-anchor="start" font-weight="normal" >MA Cross</text>
<text x="73.9" y="118.4" font-size="13" fill="#787b86" text-anchor="start" font-weight="normal" letter-spacing="0.6" >50 100</text>
<text x="127.6" y="118.4" font-size="13" fill="#ff6d00" text-anchor="start" font-weight="normal" letter-spacing="0.75" >3914.08</text>
<text x="187.8" y="118.4" font-size="13" fill="#43a047" text-anchor="start" font-weight="normal" letter-spacing="0.75" >3978.54</text>
<text x="248" y="118.4" font-size="13" fill="#131722" text-anchor="start" font-weight="normal" >∅</text>
<text x="11.2" y="142.5" font-size="13.3" fill="#131722" text-anchor="start" font-weight="normal" >Vol</text>
<text x="39.2" y="142.5" font-size="13" fill="#26a69a" text-anchor="start" font-weight="normal" letter-spacing="0.75" >1.434B</text>
<rect x="12" y="152.5" width="27.5" height="19.5" rx="4" fill="#fff" fill-opacity="0.85" stroke="#e0e3eb" stroke-width="1"/>
<path d="M21.5 164.5 L25.5 160.5 L29.5 164.5" fill="none" stroke="#131722" stroke-width="1.5"/>
<text x="11.8" y="871.6" font-size="12.6" fill="#131722" text-anchor="start" font-weight="normal" >MACD</text>
<text x="54.7" y="871.6" font-size="13.3" fill="#787b86" text-anchor="start" font-weight="normal" letter-spacing="0.1" >12 26 close 9 EMA EMA</text>
<text x="209.4" y="871.6" font-size="13" fill="#26a69a" text-anchor="start" font-weight="normal" letter-spacing="0.75" >5.07</text>
<text x="244.9" y="871.6" font-size="13" fill="#2962ff" text-anchor="start" font-weight="normal" letter-spacing="0.75" >−16.91</text>
<text x="296" y="871.6" font-size="13" fill="#ff6d00" text-anchor="start" font-weight="normal" letter-spacing="0.75" >−21.98</text>
<text x="11.8" y="1024.4" font-size="13.3" fill="#131722" text-anchor="start" font-weight="normal" >Stoch</text>
<text x="51.4" y="1024.4" font-size="13.3" fill="#787b86" text-anchor="start" font-weight="normal" letter-spacing="0.3" >14 3 3</text>
<text x="99.8" y="1024.4" font-size="13" fill="#2962ff" text-anchor="start" font-weight="normal" letter-spacing="0.75" >61.22</text>
<text x="142.9" y="1024.4" font-size="13" fill="#ff6d00" text-anchor="start" font-weight="normal" letter-spacing="0.75" >46.02</text>
<circle cx="25.3" cy="1094.5" r="15.4" fill="#fff" stroke="#e0e3eb" stroke-width="1"/>
<path d="M15.1 1089.1 H23.9 V1099.9 H20.2 V1093.1 H15.1 Z" fill="#131722"/><circle cx="26.8" cy="1091.1" r="1.8" fill="#131722"/><path d="M29.6 1089.1 H36.4 L32.3 1099.9 H27.5 Z" fill="#131722"/>
<circle cx="19" cy="19" r="9" fill="#c8102e"/>
<text x="18.9" y="21.7" font-size="8.6" fill="#fff" text-anchor="middle" font-weight="bold" letter-spacing="-0.15" >500</text>
<text x="34.8" y="24.9" font-size="13.3" fill="#2962ff" text-anchor="start" font-weight="bold" letter-spacing="-0.35" >SPX</text>
<circle cx="120.6" cy="19.3" r="8.9" fill="none" stroke="#131722" stroke-width="1.1"/>
<path d="M120.6 14.5 V24.1 M115.8 19.3 H125.4" stroke="#131722" stroke-width="1.1"/>
<rect x="144.0" y="8" width="1" height="22" fill="#e0e3eb"/>
<rect x="203.0" y="8" width="1" height="22" fill="#e0e3eb"/>
<rect x="250.0" y="8" width="1" height="22" fill="#e0e3eb"/>
<rect x="426.2" y="8" width="1" height="22" fill="#e0e3eb"/>
<rect x="1270.1" y="8" width="1" height="22" fill="#e0e3eb"/>
<text x="159.5" y="25" font-size="14.5" fill="#131722" text-anchor="start" font-weight="normal" >30m</text>
<path d="M223.5 9 V29 M231.5 12 V26" stroke="#131722" stroke-width="1.2"/><rect x="221.6" y="12.6" width="3.8" height="12.6" fill="#fff" stroke="#131722" stroke-width="1.2"/><rect x="229.6" y="15.6" width="3.8" height="6.6" fill="#fff" stroke="#131722" stroke-width="1.2"/>
<path d="M266.3 16.6 L271.4 11.3 L275.6 15.5 L282.5 10.3" fill="none" stroke="#131722" stroke-width="1" stroke-linecap="round" stroke-linejoin="round"/><path d="M266.8 27.1 V23.9 H270.3 V27.1 M270.3 27.1 V20.9 H274.6 V27.1 M274.6 27.1 V22.8 H278.3 V27.1 M278.3 27.1 V17.7 H282.2 V27.1 Z M266.8 27.1 H282.2" fill="none" stroke="#131722" stroke-width="1.1" stroke-linejoin="round"/>
<text x="290.3" y="25" font-size="14.5" fill="#131722" text-anchor="start" font-weight="normal" >Indicators</text>
<path d="M370.2 17.1 L374.1 20.7 L377.9 17.1" fill="none" stroke="#131722" stroke-width="1.1"/>
<rect x="395.6" y="11.8" width="5.8" height="5.6" rx="1.8" fill="none" stroke="#131722" stroke-width="1.1"/>
<rect x="404.6" y="11.8" width="5.8" height="5.6" rx="1.8" fill="none" stroke="#131722" stroke-width="1.1"/>
<rect x="395.6" y="20.6" width="5.8" height="5.6" rx="1.8" fill="none" stroke="#131722" stroke-width="1.1"/>
<rect x="404.6" y="20.6" width="5.8" height="5.6" rx="1.8" fill="none" stroke="#131722" stroke-width="1.1"/>
<path d="M457.3 19.5 A8 8 0 1 0 449.3 27.5" fill="none" stroke="#131722" stroke-width="1.1"/><path d="M441.6 16.6 A4.3 4.3 0 0 1 446.9 11.2 M451.9 11.2 A4.3 4.3 0 0 1 457.2 16.6" fill="none" stroke="#131722" stroke-width="1.1"/><path d="M449.4 14.2 V19.4 H446.3" fill="none" stroke="#131722" stroke-width="1.1" stroke-linecap="round"/><path d="M455.4 21.3 V29.6 M451.2 25.4 H459.8" stroke="#131722" stroke-width="1.1" stroke-linecap="round"/>
<text x="466.3" y="25" font-size="14.4" fill="#131722" text-anchor="start" font-weight="normal" >Alert</text>
<path d="M525.4 13.9 L519.1 19.4 L525.4 24.9 Z M533.4 13.9 L527.2 19.4 L533.4 24.9 Z" fill="none" stroke="#131722" stroke-width="1.1" stroke-linejoin="round"/>
<text x="542.5" y="25" font-size="13.4" fill="#131722" text-anchor="start" font-weight="normal" >Replay</text>
<path d="M1214.4 23.7 V22.6 A5 5.2 0 0 0 1209.4 17.4 H1202.5 M1205.8 14.1 L1202.5 17.4 L1205.8 20.7" fill="none" stroke="#131722" stroke-width="1.1" stroke-linecap="round"/>
<path d="M1240.4 23.7 V22.6 A5 5.2 0 0 1 1245.4 17.4 H1252.4 M1249.1 14.1 L1252.4 17.4 L1249.1 20.7" fill="none" stroke="#b2b5be" stroke-width="1.1" stroke-linecap="round"/>
<rect x="1280.7" y="11.5" width="17.4" height="15.8" rx="2.6" fill="none" stroke="#131722" stroke-width="1.2"/>
<path d="M1323.5 11.3 C1320 11.3 1317.5 13.5 1316.5 16.3 C1313.5 16.6 1311.2 19 1311.2 21.7 C1311.2 24.5 1313.3 26.5 1316 26.5 H1323.5" fill="none" stroke="#131722" stroke-width="1.1"/><path d="M1319.3 20.3 L1321.5 22.6 L1324 20.2" fill="none" stroke="#131722" stroke-width="1"/>
</svg>
</body></html>
